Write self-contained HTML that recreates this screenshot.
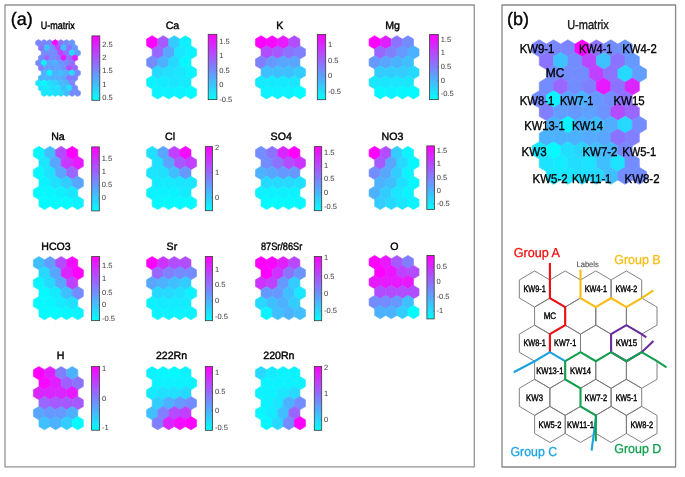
<!DOCTYPE html>
<html><head><meta charset="utf-8"><title>SOM component planes</title>
<style>
html,body{margin:0;padding:0;background:#fff;}
body{width:685px;height:477px;overflow:hidden;}
svg{display:block;will-change:transform;}
text{font-family:"Liberation Sans",sans-serif;text-rendering:geometricPrecision;}
.lab{font-size:18px;fill:#000;stroke:#000;stroke-width:0.35px;}
.ttl{font-size:10.6px;fill:#000;stroke:#000;stroke-width:0.4px;}
.ttl2{font-size:12.8px;fill:#111;stroke:#111;stroke-width:0.35px;}
.tk{font-size:7.5px;fill:#474747;stroke:#474747;stroke-width:0.05px;}
.bl{font-size:12.8px;fill:#000;stroke:#000;stroke-width:0.35px;}
.hl{font-size:9.4px;fill:#000;stroke:#000;stroke-width:0.4px;}
.grp{font-size:13px;stroke-width:0.3px;}
.lbls{font-size:8px;fill:#555;stroke:#555;stroke-width:0.15px;}
</style></head>
<body>
<svg width="685" height="477" viewBox="0 0 685 477">
<defs>
<linearGradient id="cg" x1="0" y1="1" x2="0" y2="0">
<stop offset="0" stop-color="#00ffff"/><stop offset="1" stop-color="#ff00ff"/>
</linearGradient>
</defs>
<rect x="0" y="0" width="685" height="477" fill="#fff"/>
<rect x="5" y="5" width="469.3" height="461.8" fill="none" stroke="#929292" stroke-width="1.3" stroke-linejoin="round"/>
<rect x="502" y="5" width="173.6" height="462" fill="none" stroke="#888" stroke-width="1.3" stroke-linejoin="round"/>
<text x="10.8" y="24.5" class="lab">(a)</text>
<text x="507" y="24.5" class="lab">(b)</text>
<polygon points="38.50,39.60 41.29,41.27 41.29,44.62 38.50,46.29 35.70,44.62 35.70,41.27" fill="#7a85ff" stroke="#7a85ff" stroke-width="0.6"/>
<polygon points="44.09,39.60 46.88,41.27 46.88,44.62 44.09,46.29 41.29,44.62 41.29,41.27" fill="#7a85ff" stroke="#7a85ff" stroke-width="0.6"/>
<polygon points="49.68,39.60 52.47,41.27 52.47,44.62 49.68,46.29 46.88,44.62 46.88,41.27" fill="#7a85ff" stroke="#7a85ff" stroke-width="0.6"/>
<polygon points="55.27,39.60 58.06,41.27 58.06,44.62 55.27,46.29 52.47,44.62 52.47,41.27" fill="#ff00ff" stroke="#ff00ff" stroke-width="0.6"/>
<polygon points="60.86,39.60 63.65,41.27 63.65,44.62 60.86,46.29 58.06,44.62 58.06,41.27" fill="#8c73ff" stroke="#8c73ff" stroke-width="0.6"/>
<polygon points="66.45,39.60 69.24,41.27 69.24,44.62 66.45,46.29 63.65,44.62 63.65,41.27" fill="#738cff" stroke="#738cff" stroke-width="0.6"/>
<polygon points="72.03,39.60 74.83,41.27 74.83,44.62 72.03,46.29 69.24,44.62 69.24,41.27" fill="#6b94ff" stroke="#6b94ff" stroke-width="0.6"/>
<polygon points="41.29,44.62 44.09,46.29 44.09,49.63 41.29,51.30 38.50,49.63 38.50,46.29" fill="#8c73ff" stroke="#8c73ff" stroke-width="0.6"/>
<polygon points="46.88,44.62 49.68,46.29 49.68,49.63 46.88,51.30 44.09,49.63 44.09,46.29" fill="#3dc2ff" stroke="#3dc2ff" stroke-width="0.6"/>
<polygon points="52.47,44.62 55.27,46.29 55.27,49.63 52.47,51.30 49.68,49.63 49.68,46.29" fill="#738cff" stroke="#738cff" stroke-width="0.6"/>
<polygon points="58.06,44.62 60.86,46.29 60.86,49.63 58.06,51.30 55.27,49.63 55.27,46.29" fill="#b847ff" stroke="#b847ff" stroke-width="0.6"/>
<polygon points="63.65,44.62 66.45,46.29 66.45,49.63 63.65,51.30 60.86,49.63 60.86,46.29" fill="#3dc2ff" stroke="#3dc2ff" stroke-width="0.6"/>
<polygon points="69.24,44.62 72.04,46.29 72.04,49.63 69.24,51.30 66.45,49.63 66.45,46.29" fill="#8c73ff" stroke="#8c73ff" stroke-width="0.6"/>
<polygon points="74.83,44.62 77.62,46.29 77.62,49.63 74.83,51.30 72.03,49.63 72.03,46.29" fill="#6699ff" stroke="#6699ff" stroke-width="0.6"/>
<polygon points="44.09,49.63 46.88,51.30 46.88,54.65 44.09,56.32 41.29,54.65 41.29,51.30" fill="#738cff" stroke="#738cff" stroke-width="0.6"/>
<polygon points="49.68,49.63 52.47,51.30 52.47,54.65 49.68,56.32 46.88,54.65 46.88,51.30" fill="#738cff" stroke="#738cff" stroke-width="0.6"/>
<polygon points="55.27,49.63 58.06,51.30 58.06,54.65 55.27,56.32 52.47,54.65 52.47,51.30" fill="#738cff" stroke="#738cff" stroke-width="0.6"/>
<polygon points="60.86,49.63 63.65,51.30 63.65,54.65 60.86,56.32 58.06,54.65 58.06,51.30" fill="#bf40ff" stroke="#bf40ff" stroke-width="0.6"/>
<polygon points="66.45,49.63 69.24,51.30 69.24,54.65 66.45,56.32 63.65,54.65 63.65,51.30" fill="#8c73ff" stroke="#8c73ff" stroke-width="0.6"/>
<polygon points="72.04,49.63 74.83,51.30 74.83,54.65 72.04,56.32 69.24,54.65 69.24,51.30" fill="#26d9ff" stroke="#26d9ff" stroke-width="0.6"/>
<polygon points="77.62,49.63 80.42,51.30 80.42,54.65 77.62,56.32 74.83,54.65 74.83,51.30" fill="#619eff" stroke="#619eff" stroke-width="0.6"/>
<polygon points="41.29,54.65 44.09,56.32 44.09,59.66 41.29,61.33 38.50,59.66 38.50,56.32" fill="#738cff" stroke="#738cff" stroke-width="0.6"/>
<polygon points="46.88,54.65 49.68,56.32 49.68,59.66 46.88,61.33 44.09,59.66 44.09,56.32" fill="#9966ff" stroke="#9966ff" stroke-width="0.6"/>
<polygon points="52.47,54.65 55.27,56.32 55.27,59.66 52.47,61.33 49.68,59.66 49.68,56.32" fill="#738cff" stroke="#738cff" stroke-width="0.6"/>
<polygon points="58.06,54.65 60.86,56.32 60.86,59.66 58.06,61.33 55.27,59.66 55.27,56.32" fill="#8080ff" stroke="#8080ff" stroke-width="0.6"/>
<polygon points="63.65,54.65 66.45,56.32 66.45,59.66 63.65,61.33 60.86,59.66 60.86,56.32" fill="#e619ff" stroke="#e619ff" stroke-width="0.6"/>
<polygon points="69.24,54.65 72.04,56.32 72.04,59.66 69.24,61.33 66.45,59.66 66.45,56.32" fill="#8c73ff" stroke="#8c73ff" stroke-width="0.6"/>
<polygon points="74.83,54.65 77.62,56.32 77.62,59.66 74.83,61.33 72.03,59.66 72.03,56.32" fill="#d926ff" stroke="#d926ff" stroke-width="0.6"/>
<polygon points="38.50,59.66 41.29,61.33 41.29,64.68 38.50,66.35 35.70,64.68 35.70,61.33" fill="#738cff" stroke="#738cff" stroke-width="0.6"/>
<polygon points="44.09,59.66 46.88,61.33 46.88,64.68 44.09,66.35 41.29,64.68 41.29,61.33" fill="#0df2ff" stroke="#0df2ff" stroke-width="0.6"/>
<polygon points="49.68,59.66 52.47,61.33 52.47,64.68 49.68,66.35 46.88,64.68 46.88,61.33" fill="#5ca3ff" stroke="#5ca3ff" stroke-width="0.6"/>
<polygon points="55.27,59.66 58.06,61.33 58.06,64.68 55.27,66.35 52.47,64.68 52.47,61.33" fill="#4cb2ff" stroke="#4cb2ff" stroke-width="0.6"/>
<polygon points="60.86,59.66 63.65,61.33 63.65,64.68 60.86,66.35 58.06,64.68 58.06,61.33" fill="#6699ff" stroke="#6699ff" stroke-width="0.6"/>
<polygon points="66.45,59.66 69.24,61.33 69.24,64.68 66.45,66.35 63.65,64.68 63.65,61.33" fill="#738cff" stroke="#738cff" stroke-width="0.6"/>
<polygon points="72.03,59.66 74.83,61.33 74.83,64.68 72.03,66.35 69.24,64.68 69.24,61.33" fill="#8c73ff" stroke="#8c73ff" stroke-width="0.6"/>
<polygon points="41.29,64.68 44.09,66.35 44.09,69.69 41.29,71.36 38.50,69.69 38.50,66.35" fill="#8080ff" stroke="#8080ff" stroke-width="0.6"/>
<polygon points="46.88,64.68 49.68,66.35 49.68,69.69 46.88,71.36 44.09,69.69 44.09,66.35" fill="#619eff" stroke="#619eff" stroke-width="0.6"/>
<polygon points="52.47,64.68 55.27,66.35 55.27,69.69 52.47,71.36 49.68,69.69 49.68,66.35" fill="#6699ff" stroke="#6699ff" stroke-width="0.6"/>
<polygon points="58.06,64.68 60.86,66.35 60.86,69.69 58.06,71.36 55.27,69.69 55.27,66.35" fill="#5ea1ff" stroke="#5ea1ff" stroke-width="0.6"/>
<polygon points="63.65,64.68 66.45,66.35 66.45,69.69 63.65,71.36 60.86,69.69 60.86,66.35" fill="#6b94ff" stroke="#6b94ff" stroke-width="0.6"/>
<polygon points="69.24,64.68 72.04,66.35 72.04,69.69 69.24,71.36 66.45,69.69 66.45,66.35" fill="#b24dff" stroke="#b24dff" stroke-width="0.6"/>
<polygon points="74.83,64.68 77.62,66.35 77.62,69.69 74.83,71.36 72.03,69.69 72.03,66.35" fill="#9966ff" stroke="#9966ff" stroke-width="0.6"/>
<polygon points="44.09,69.69 46.88,71.36 46.88,74.71 44.09,76.38 41.29,74.71 41.29,71.36" fill="#4cb2ff" stroke="#4cb2ff" stroke-width="0.6"/>
<polygon points="49.68,69.69 52.47,71.36 52.47,74.71 49.68,76.38 46.88,74.71 46.88,71.36" fill="#0df2ff" stroke="#0df2ff" stroke-width="0.6"/>
<polygon points="55.27,69.69 58.06,71.36 58.06,74.71 55.27,76.38 52.47,74.71 52.47,71.36" fill="#4cb2ff" stroke="#4cb2ff" stroke-width="0.6"/>
<polygon points="60.86,69.69 63.65,71.36 63.65,74.71 60.86,76.38 58.06,74.71 58.06,71.36" fill="#40bfff" stroke="#40bfff" stroke-width="0.6"/>
<polygon points="66.45,69.69 69.24,71.36 69.24,74.71 66.45,76.38 63.65,74.71 63.65,71.36" fill="#52adff" stroke="#52adff" stroke-width="0.6"/>
<polygon points="72.04,69.69 74.83,71.36 74.83,74.71 72.04,76.38 69.24,74.71 69.24,71.36" fill="#26d9ff" stroke="#26d9ff" stroke-width="0.6"/>
<polygon points="77.62,69.69 80.42,71.36 80.42,74.71 77.62,76.38 74.83,74.71 74.83,71.36" fill="#738cff" stroke="#738cff" stroke-width="0.6"/>
<polygon points="41.29,74.71 44.09,76.38 44.09,79.72 41.29,81.39 38.50,79.72 38.50,76.38" fill="#4cb2ff" stroke="#4cb2ff" stroke-width="0.6"/>
<polygon points="46.88,74.71 49.68,76.38 49.68,79.72 46.88,81.39 44.09,79.72 44.09,76.38" fill="#4cb2ff" stroke="#4cb2ff" stroke-width="0.6"/>
<polygon points="52.47,74.71 55.27,76.38 55.27,79.72 52.47,81.39 49.68,79.72 49.68,76.38" fill="#4cb2ff" stroke="#4cb2ff" stroke-width="0.6"/>
<polygon points="58.06,74.71 60.86,76.38 60.86,79.72 58.06,81.39 55.27,79.72 55.27,76.38" fill="#54abff" stroke="#54abff" stroke-width="0.6"/>
<polygon points="63.65,74.71 66.45,76.38 66.45,79.72 63.65,81.39 60.86,79.72 60.86,76.38" fill="#59a6ff" stroke="#59a6ff" stroke-width="0.6"/>
<polygon points="69.24,74.71 72.04,76.38 72.04,79.72 69.24,81.39 66.45,79.72 66.45,76.38" fill="#8c73ff" stroke="#8c73ff" stroke-width="0.6"/>
<polygon points="74.83,74.71 77.62,76.38 77.62,79.72 74.83,81.39 72.03,79.72 72.03,76.38" fill="#8080ff" stroke="#8080ff" stroke-width="0.6"/>
<polygon points="38.50,79.72 41.29,81.39 41.29,84.74 38.50,86.41 35.70,84.74 35.70,81.39" fill="#1ae6ff" stroke="#1ae6ff" stroke-width="0.6"/>
<polygon points="44.09,79.72 46.88,81.39 46.88,84.74 44.09,86.41 41.29,84.74 41.29,81.39" fill="#05faff" stroke="#05faff" stroke-width="0.6"/>
<polygon points="49.68,79.72 52.47,81.39 52.47,84.74 49.68,86.41 46.88,84.74 46.88,81.39" fill="#21deff" stroke="#21deff" stroke-width="0.6"/>
<polygon points="55.27,79.72 58.06,81.39 58.06,84.74 55.27,86.41 52.47,84.74 52.47,81.39" fill="#2bd4ff" stroke="#2bd4ff" stroke-width="0.6"/>
<polygon points="60.86,79.72 63.65,81.39 63.65,84.74 60.86,86.41 58.06,84.74 58.06,81.39" fill="#42bdff" stroke="#42bdff" stroke-width="0.6"/>
<polygon points="66.45,79.72 69.24,81.39 69.24,84.74 66.45,86.41 63.65,84.74 63.65,81.39" fill="#4ab5ff" stroke="#4ab5ff" stroke-width="0.6"/>
<polygon points="72.03,79.72 74.83,81.39 74.83,84.74 72.03,86.41 69.24,84.74 69.24,81.39" fill="#7887ff" stroke="#7887ff" stroke-width="0.6"/>
<polygon points="41.29,84.74 44.09,86.41 44.09,89.75 41.29,91.43 38.50,89.75 38.50,86.41" fill="#1ce3ff" stroke="#1ce3ff" stroke-width="0.6"/>
<polygon points="46.88,84.74 49.68,86.41 49.68,89.75 46.88,91.43 44.09,89.75 44.09,86.41" fill="#14ebff" stroke="#14ebff" stroke-width="0.6"/>
<polygon points="52.47,84.74 55.27,86.41 55.27,89.75 52.47,91.43 49.68,89.75 49.68,86.41" fill="#21deff" stroke="#21deff" stroke-width="0.6"/>
<polygon points="58.06,84.74 60.86,86.41 60.86,89.75 58.06,91.43 55.27,89.75 55.27,86.41" fill="#1ce3ff" stroke="#1ce3ff" stroke-width="0.6"/>
<polygon points="63.65,84.74 66.45,86.41 66.45,89.75 63.65,91.43 60.86,89.75 60.86,86.41" fill="#40bfff" stroke="#40bfff" stroke-width="0.6"/>
<polygon points="69.24,84.74 72.04,86.41 72.04,89.75 69.24,91.43 66.45,89.75 66.45,86.41" fill="#1ce3ff" stroke="#1ce3ff" stroke-width="0.6"/>
<polygon points="74.83,84.74 77.62,86.41 77.62,89.75 74.83,91.43 72.03,89.75 72.03,86.41" fill="#738cff" stroke="#738cff" stroke-width="0.6"/>
<polygon points="44.09,89.75 46.88,91.43 46.88,94.77 44.09,96.44 41.29,94.77 41.29,91.43" fill="#17e8ff" stroke="#17e8ff" stroke-width="0.6"/>
<polygon points="49.68,89.75 52.47,91.43 52.47,94.77 49.68,96.44 46.88,94.77 46.88,91.43" fill="#1ae6ff" stroke="#1ae6ff" stroke-width="0.6"/>
<polygon points="55.27,89.75 58.06,91.43 58.06,94.77 55.27,96.44 52.47,94.77 52.47,91.43" fill="#1fe0ff" stroke="#1fe0ff" stroke-width="0.6"/>
<polygon points="60.86,89.75 63.65,91.43 63.65,94.77 60.86,96.44 58.06,94.77 58.06,91.43" fill="#26d9ff" stroke="#26d9ff" stroke-width="0.6"/>
<polygon points="66.45,89.75 69.24,91.43 69.24,94.77 66.45,96.44 63.65,94.77 63.65,91.43" fill="#40bfff" stroke="#40bfff" stroke-width="0.6"/>
<polygon points="72.04,89.75 74.83,91.43 74.83,94.77 72.04,96.44 69.24,94.77 69.24,91.43" fill="#738cff" stroke="#738cff" stroke-width="0.6"/>
<polygon points="77.62,89.75 80.42,91.43 80.42,94.77 77.62,96.44 74.83,94.77 74.83,91.43" fill="#738cff" stroke="#738cff" stroke-width="0.6"/>
<text x="57.8" y="29.3" class="ttl" text-anchor="middle" textLength="34" lengthAdjust="spacingAndGlyphs">U-matrix</text>
<rect x="91.90" y="35.90" width="7.90" height="64.40" fill="url(#cg)" stroke="#3a3a3a" stroke-width="0.8"/>
<line x1="98.80" y1="44.90" x2="99.80" y2="44.90" stroke="#444" stroke-width="0.5"/>
<text x="102.20" y="47.10" class="tk">2.5</text>
<line x1="98.80" y1="57.40" x2="99.80" y2="57.40" stroke="#444" stroke-width="0.5"/>
<text x="102.20" y="59.60" class="tk">2</text>
<line x1="98.80" y1="70.80" x2="99.80" y2="70.80" stroke="#444" stroke-width="0.5"/>
<text x="102.20" y="73.00" class="tk">1.5</text>
<line x1="98.80" y1="84.30" x2="99.80" y2="84.30" stroke="#444" stroke-width="0.5"/>
<text x="102.20" y="86.50" class="tk">1</text>
<line x1="98.80" y1="97.70" x2="99.80" y2="97.70" stroke="#444" stroke-width="0.5"/>
<text x="102.20" y="99.90" class="tk">0.5</text>
<polygon points="152.15,35.70 157.70,39.03 157.70,45.70 152.15,49.03 146.60,45.70 146.60,39.03" fill="#ff00ff" stroke="#ff00ff" stroke-width="0.6"/>
<polygon points="163.25,35.70 168.80,39.03 168.80,45.70 163.25,49.03 157.70,45.70 157.70,39.03" fill="#a659ff" stroke="#a659ff" stroke-width="0.6"/>
<polygon points="174.35,35.70 179.90,39.03 179.90,45.70 174.35,49.03 168.80,45.70 168.80,39.03" fill="#33ccff" stroke="#33ccff" stroke-width="0.6"/>
<polygon points="185.45,35.70 191.00,39.03 191.00,45.70 185.45,49.03 179.90,45.70 179.90,39.03" fill="#0ff0ff" stroke="#0ff0ff" stroke-width="0.6"/>
<polygon points="157.70,45.70 163.25,49.03 163.25,55.69 157.70,59.03 152.15,55.69 152.15,49.03" fill="#9966ff" stroke="#9966ff" stroke-width="0.6"/>
<polygon points="168.80,45.70 174.35,49.03 174.35,55.69 168.80,59.03 163.25,55.69 163.25,49.03" fill="#59a6ff" stroke="#59a6ff" stroke-width="0.6"/>
<polygon points="179.90,45.70 185.45,49.03 185.45,55.69 179.90,59.03 174.35,55.69 174.35,49.03" fill="#1ae6ff" stroke="#1ae6ff" stroke-width="0.6"/>
<polygon points="191.00,45.70 196.55,49.03 196.55,55.69 191.00,59.03 185.45,55.69 185.45,49.03" fill="#0df2ff" stroke="#0df2ff" stroke-width="0.6"/>
<polygon points="152.15,55.69 157.70,59.03 157.70,65.69 152.15,69.02 146.60,65.69 146.60,59.03" fill="#738cff" stroke="#738cff" stroke-width="0.6"/>
<polygon points="163.25,55.69 168.80,59.03 168.80,65.69 163.25,69.02 157.70,65.69 157.70,59.03" fill="#4cb2ff" stroke="#4cb2ff" stroke-width="0.6"/>
<polygon points="174.35,55.69 179.90,59.03 179.90,65.69 174.35,69.02 168.80,65.69 168.80,59.03" fill="#26d9ff" stroke="#26d9ff" stroke-width="0.6"/>
<polygon points="185.45,55.69 191.00,59.03 191.00,65.69 185.45,69.02 179.90,65.69 179.90,59.03" fill="#08f7ff" stroke="#08f7ff" stroke-width="0.6"/>
<polygon points="157.70,65.69 163.25,69.02 163.25,75.69 157.70,79.02 152.15,75.69 152.15,69.02" fill="#26d9ff" stroke="#26d9ff" stroke-width="0.6"/>
<polygon points="168.80,65.69 174.35,69.02 174.35,75.69 168.80,79.02 163.25,75.69 163.25,69.02" fill="#1fe0ff" stroke="#1fe0ff" stroke-width="0.6"/>
<polygon points="179.90,65.69 185.45,69.02 185.45,75.69 179.90,79.02 174.35,75.69 174.35,69.02" fill="#1ae6ff" stroke="#1ae6ff" stroke-width="0.6"/>
<polygon points="191.00,65.69 196.55,69.02 196.55,75.69 191.00,79.02 185.45,75.69 185.45,69.02" fill="#0df2ff" stroke="#0df2ff" stroke-width="0.6"/>
<polygon points="152.15,75.69 157.70,79.02 157.70,85.69 152.15,89.02 146.60,85.69 146.60,79.02" fill="#0df2ff" stroke="#0df2ff" stroke-width="0.6"/>
<polygon points="163.25,75.69 168.80,79.02 168.80,85.69 163.25,89.02 157.70,85.69 157.70,79.02" fill="#14ebff" stroke="#14ebff" stroke-width="0.6"/>
<polygon points="174.35,75.69 179.90,79.02 179.90,85.69 174.35,89.02 168.80,85.69 168.80,79.02" fill="#1ae6ff" stroke="#1ae6ff" stroke-width="0.6"/>
<polygon points="185.45,75.69 191.00,79.02 191.00,85.69 185.45,89.02 179.90,85.69 179.90,79.02" fill="#14ebff" stroke="#14ebff" stroke-width="0.6"/>
<polygon points="157.70,85.69 163.25,89.02 163.25,95.68 157.70,99.02 152.15,95.68 152.15,89.02" fill="#0df2ff" stroke="#0df2ff" stroke-width="0.6"/>
<polygon points="168.80,85.69 174.35,89.02 174.35,95.68 168.80,99.02 163.25,95.68 163.25,89.02" fill="#0df2ff" stroke="#0df2ff" stroke-width="0.6"/>
<polygon points="179.90,85.69 185.45,89.02 185.45,95.68 179.90,99.02 174.35,95.68 174.35,89.02" fill="#0df2ff" stroke="#0df2ff" stroke-width="0.6"/>
<polygon points="191.00,85.69 196.55,89.02 196.55,95.68 191.00,99.02 185.45,95.68 185.45,89.02" fill="#05faff" stroke="#05faff" stroke-width="0.6"/>
<text x="172.40" y="29.40" class="ttl" text-anchor="middle">Ca</text>
<rect x="208.20" y="34.30" width="8.70" height="65.30" fill="url(#cg)" stroke="#3a3a3a" stroke-width="0.8"/>
<line x1="215.90" y1="41.80" x2="216.90" y2="41.80" stroke="#444" stroke-width="0.5"/>
<text x="219.30" y="44.00" class="tk">1.5</text>
<line x1="215.90" y1="56.00" x2="216.90" y2="56.00" stroke="#444" stroke-width="0.5"/>
<text x="219.30" y="58.20" class="tk">1</text>
<line x1="215.90" y1="70.90" x2="216.90" y2="70.90" stroke="#444" stroke-width="0.5"/>
<text x="219.30" y="73.10" class="tk">0.5</text>
<line x1="215.90" y1="85.10" x2="216.90" y2="85.10" stroke="#444" stroke-width="0.5"/>
<text x="219.30" y="87.30" class="tk">0</text>
<line x1="215.90" y1="99.60" x2="216.90" y2="99.60" stroke="#444" stroke-width="0.5"/>
<text x="219.30" y="101.80" class="tk">-0.5</text>
<polygon points="261.05,35.70 266.60,39.03 266.60,45.70 261.05,49.03 255.50,45.70 255.50,39.03" fill="#ff00ff" stroke="#ff00ff" stroke-width="0.6"/>
<polygon points="272.15,35.70 277.70,39.03 277.70,45.70 272.15,49.03 266.60,45.70 266.60,39.03" fill="#f708ff" stroke="#f708ff" stroke-width="0.6"/>
<polygon points="283.25,35.70 288.80,39.03 288.80,45.70 283.25,49.03 277.70,45.70 277.70,39.03" fill="#e619ff" stroke="#e619ff" stroke-width="0.6"/>
<polygon points="294.35,35.70 299.90,39.03 299.90,45.70 294.35,49.03 288.80,45.70 288.80,39.03" fill="#b24dff" stroke="#b24dff" stroke-width="0.6"/>
<polygon points="266.60,45.70 272.15,49.03 272.15,55.69 266.60,59.03 261.05,55.69 261.05,49.03" fill="#b24dff" stroke="#b24dff" stroke-width="0.6"/>
<polygon points="277.70,45.70 283.25,49.03 283.25,55.69 277.70,59.03 272.15,55.69 272.15,49.03" fill="#a659ff" stroke="#a659ff" stroke-width="0.6"/>
<polygon points="288.80,45.70 294.35,49.03 294.35,55.69 288.80,59.03 283.25,55.69 283.25,49.03" fill="#8c73ff" stroke="#8c73ff" stroke-width="0.6"/>
<polygon points="299.90,45.70 305.45,49.03 305.45,55.69 299.90,59.03 294.35,55.69 294.35,49.03" fill="#8080ff" stroke="#8080ff" stroke-width="0.6"/>
<polygon points="261.05,55.69 266.60,59.03 266.60,65.69 261.05,69.02 255.50,65.69 255.50,59.03" fill="#8080ff" stroke="#8080ff" stroke-width="0.6"/>
<polygon points="272.15,55.69 277.70,59.03 277.70,65.69 272.15,69.02 266.60,65.69 266.60,59.03" fill="#6699ff" stroke="#6699ff" stroke-width="0.6"/>
<polygon points="283.25,55.69 288.80,59.03 288.80,65.69 283.25,69.02 277.70,65.69 277.70,59.03" fill="#59a6ff" stroke="#59a6ff" stroke-width="0.6"/>
<polygon points="294.35,55.69 299.90,59.03 299.90,65.69 294.35,69.02 288.80,65.69 288.80,59.03" fill="#59a6ff" stroke="#59a6ff" stroke-width="0.6"/>
<polygon points="266.60,65.69 272.15,69.02 272.15,75.69 266.60,79.02 261.05,75.69 261.05,69.02" fill="#40bfff" stroke="#40bfff" stroke-width="0.6"/>
<polygon points="277.70,65.69 283.25,69.02 283.25,75.69 277.70,79.02 272.15,75.69 272.15,69.02" fill="#40bfff" stroke="#40bfff" stroke-width="0.6"/>
<polygon points="288.80,65.69 294.35,69.02 294.35,75.69 288.80,79.02 283.25,75.69 283.25,69.02" fill="#40bfff" stroke="#40bfff" stroke-width="0.6"/>
<polygon points="299.90,65.69 305.45,69.02 305.45,75.69 299.90,79.02 294.35,75.69 294.35,69.02" fill="#33ccff" stroke="#33ccff" stroke-width="0.6"/>
<polygon points="261.05,75.69 266.60,79.02 266.60,85.69 261.05,89.02 255.50,85.69 255.50,79.02" fill="#14ebff" stroke="#14ebff" stroke-width="0.6"/>
<polygon points="272.15,75.69 277.70,79.02 277.70,85.69 272.15,89.02 266.60,85.69 266.60,79.02" fill="#14ebff" stroke="#14ebff" stroke-width="0.6"/>
<polygon points="283.25,75.69 288.80,79.02 288.80,85.69 283.25,89.02 277.70,85.69 277.70,79.02" fill="#14ebff" stroke="#14ebff" stroke-width="0.6"/>
<polygon points="294.35,75.69 299.90,79.02 299.90,85.69 294.35,89.02 288.80,85.69 288.80,79.02" fill="#1ae6ff" stroke="#1ae6ff" stroke-width="0.6"/>
<polygon points="266.60,85.69 272.15,89.02 272.15,95.68 266.60,99.02 261.05,95.68 261.05,89.02" fill="#0df2ff" stroke="#0df2ff" stroke-width="0.6"/>
<polygon points="277.70,85.69 283.25,89.02 283.25,95.68 277.70,99.02 272.15,95.68 272.15,89.02" fill="#0df2ff" stroke="#0df2ff" stroke-width="0.6"/>
<polygon points="288.80,85.69 294.35,89.02 294.35,95.68 288.80,99.02 283.25,95.68 283.25,89.02" fill="#0df2ff" stroke="#0df2ff" stroke-width="0.6"/>
<polygon points="299.90,85.69 305.45,89.02 305.45,95.68 299.90,99.02 294.35,95.68 294.35,89.02" fill="#05faff" stroke="#05faff" stroke-width="0.6"/>
<text x="279.80" y="29.40" class="ttl" text-anchor="middle">K</text>
<rect x="317.30" y="34.50" width="8.40" height="65.20" fill="url(#cg)" stroke="#3a3a3a" stroke-width="0.8"/>
<line x1="324.70" y1="44.50" x2="325.70" y2="44.50" stroke="#444" stroke-width="0.5"/>
<text x="328.10" y="46.70" class="tk">1</text>
<line x1="324.70" y1="60.80" x2="325.70" y2="60.80" stroke="#444" stroke-width="0.5"/>
<text x="328.10" y="63.00" class="tk">0.5</text>
<line x1="324.70" y1="75.80" x2="325.70" y2="75.80" stroke="#444" stroke-width="0.5"/>
<text x="328.10" y="78.00" class="tk">0</text>
<line x1="324.70" y1="91.70" x2="325.70" y2="91.70" stroke="#444" stroke-width="0.5"/>
<text x="328.10" y="93.90" class="tk">-0.5</text>
<polygon points="374.65,35.70 380.20,39.03 380.20,45.70 374.65,49.03 369.10,45.70 369.10,39.03" fill="#ff00ff" stroke="#ff00ff" stroke-width="0.6"/>
<polygon points="385.75,35.70 391.30,39.03 391.30,45.70 385.75,49.03 380.20,45.70 380.20,39.03" fill="#e01fff" stroke="#e01fff" stroke-width="0.6"/>
<polygon points="396.85,35.70 402.40,39.03 402.40,45.70 396.85,49.03 391.30,45.70 391.30,39.03" fill="#8c73ff" stroke="#8c73ff" stroke-width="0.6"/>
<polygon points="407.95,35.70 413.50,39.03 413.50,45.70 407.95,49.03 402.40,45.70 402.40,39.03" fill="#738cff" stroke="#738cff" stroke-width="0.6"/>
<polygon points="380.20,45.70 385.75,49.03 385.75,55.69 380.20,59.03 374.65,55.69 374.65,49.03" fill="#9966ff" stroke="#9966ff" stroke-width="0.6"/>
<polygon points="391.30,45.70 396.85,49.03 396.85,55.69 391.30,59.03 385.75,55.69 385.75,49.03" fill="#8080ff" stroke="#8080ff" stroke-width="0.6"/>
<polygon points="402.40,45.70 407.95,49.03 407.95,55.69 402.40,59.03 396.85,55.69 396.85,49.03" fill="#6699ff" stroke="#6699ff" stroke-width="0.6"/>
<polygon points="413.50,45.70 419.05,49.03 419.05,55.69 413.50,59.03 407.95,55.69 407.95,49.03" fill="#4cb2ff" stroke="#4cb2ff" stroke-width="0.6"/>
<polygon points="374.65,55.69 380.20,59.03 380.20,65.69 374.65,69.02 369.10,65.69 369.10,59.03" fill="#6699ff" stroke="#6699ff" stroke-width="0.6"/>
<polygon points="385.75,55.69 391.30,59.03 391.30,65.69 385.75,69.02 380.20,65.69 380.20,59.03" fill="#59a6ff" stroke="#59a6ff" stroke-width="0.6"/>
<polygon points="396.85,55.69 402.40,59.03 402.40,65.69 396.85,69.02 391.30,65.69 391.30,59.03" fill="#4cb2ff" stroke="#4cb2ff" stroke-width="0.6"/>
<polygon points="407.95,55.69 413.50,59.03 413.50,65.69 407.95,69.02 402.40,65.69 402.40,59.03" fill="#40bfff" stroke="#40bfff" stroke-width="0.6"/>
<polygon points="380.20,65.69 385.75,69.02 385.75,75.69 380.20,79.02 374.65,75.69 374.65,69.02" fill="#33ccff" stroke="#33ccff" stroke-width="0.6"/>
<polygon points="391.30,65.69 396.85,69.02 396.85,75.69 391.30,79.02 385.75,75.69 385.75,69.02" fill="#33ccff" stroke="#33ccff" stroke-width="0.6"/>
<polygon points="402.40,65.69 407.95,69.02 407.95,75.69 402.40,79.02 396.85,75.69 396.85,69.02" fill="#33ccff" stroke="#33ccff" stroke-width="0.6"/>
<polygon points="413.50,65.69 419.05,69.02 419.05,75.69 413.50,79.02 407.95,75.69 407.95,69.02" fill="#26d9ff" stroke="#26d9ff" stroke-width="0.6"/>
<polygon points="374.65,75.69 380.20,79.02 380.20,85.69 374.65,89.02 369.10,85.69 369.10,79.02" fill="#1ae6ff" stroke="#1ae6ff" stroke-width="0.6"/>
<polygon points="385.75,75.69 391.30,79.02 391.30,85.69 385.75,89.02 380.20,85.69 380.20,79.02" fill="#1ae6ff" stroke="#1ae6ff" stroke-width="0.6"/>
<polygon points="396.85,75.69 402.40,79.02 402.40,85.69 396.85,89.02 391.30,85.69 391.30,79.02" fill="#1ae6ff" stroke="#1ae6ff" stroke-width="0.6"/>
<polygon points="407.95,75.69 413.50,79.02 413.50,85.69 407.95,89.02 402.40,85.69 402.40,79.02" fill="#1ae6ff" stroke="#1ae6ff" stroke-width="0.6"/>
<polygon points="380.20,85.69 385.75,89.02 385.75,95.68 380.20,99.02 374.65,95.68 374.65,89.02" fill="#08f7ff" stroke="#08f7ff" stroke-width="0.6"/>
<polygon points="391.30,85.69 396.85,89.02 396.85,95.68 391.30,99.02 385.75,95.68 385.75,89.02" fill="#0df2ff" stroke="#0df2ff" stroke-width="0.6"/>
<polygon points="402.40,85.69 407.95,89.02 407.95,95.68 402.40,99.02 396.85,95.68 396.85,89.02" fill="#08f7ff" stroke="#08f7ff" stroke-width="0.6"/>
<polygon points="413.50,85.69 419.05,89.02 419.05,95.68 413.50,99.02 407.95,95.68 407.95,89.02" fill="#05faff" stroke="#05faff" stroke-width="0.6"/>
<text x="392.50" y="29.40" class="ttl" text-anchor="middle">Mg</text>
<rect x="429.60" y="34.50" width="8.70" height="65.10" fill="url(#cg)" stroke="#3a3a3a" stroke-width="0.8"/>
<line x1="437.30" y1="39.90" x2="438.30" y2="39.90" stroke="#444" stroke-width="0.5"/>
<text x="440.70" y="42.10" class="tk">1.5</text>
<line x1="437.30" y1="53.20" x2="438.30" y2="53.20" stroke="#444" stroke-width="0.5"/>
<text x="440.70" y="55.40" class="tk">1</text>
<line x1="437.30" y1="67.10" x2="438.30" y2="67.10" stroke="#444" stroke-width="0.5"/>
<text x="440.70" y="69.30" class="tk">0.5</text>
<line x1="437.30" y1="80.30" x2="438.30" y2="80.30" stroke="#444" stroke-width="0.5"/>
<text x="440.70" y="82.50" class="tk">0</text>
<line x1="437.30" y1="94.20" x2="438.30" y2="94.20" stroke="#444" stroke-width="0.5"/>
<text x="440.70" y="96.40" class="tk">-0.5</text>
<polygon points="38.95,146.30 44.50,149.63 44.50,156.30 38.95,159.63 33.40,156.30 33.40,149.63" fill="#0af5ff" stroke="#0af5ff" stroke-width="0.6"/>
<polygon points="50.05,146.30 55.60,149.63 55.60,156.30 50.05,159.63 44.50,156.30 44.50,149.63" fill="#42bdff" stroke="#42bdff" stroke-width="0.6"/>
<polygon points="61.15,146.30 66.70,149.63 66.70,156.30 61.15,159.63 55.60,156.30 55.60,149.63" fill="#b24dff" stroke="#b24dff" stroke-width="0.6"/>
<polygon points="72.25,146.30 77.80,149.63 77.80,156.30 72.25,159.63 66.70,156.30 66.70,149.63" fill="#ff00ff" stroke="#ff00ff" stroke-width="0.6"/>
<polygon points="44.50,156.30 50.05,159.63 50.05,166.29 44.50,169.63 38.95,166.29 38.95,159.63" fill="#1ae6ff" stroke="#1ae6ff" stroke-width="0.6"/>
<polygon points="55.60,156.30 61.15,159.63 61.15,166.29 55.60,169.63 50.05,166.29 50.05,159.63" fill="#59a6ff" stroke="#59a6ff" stroke-width="0.6"/>
<polygon points="66.70,156.30 72.25,159.63 72.25,166.29 66.70,169.63 61.15,166.29 61.15,159.63" fill="#c738ff" stroke="#c738ff" stroke-width="0.6"/>
<polygon points="77.80,156.30 83.35,159.63 83.35,166.29 77.80,169.63 72.25,166.29 72.25,159.63" fill="#e619ff" stroke="#e619ff" stroke-width="0.6"/>
<polygon points="38.95,166.29 44.50,169.63 44.50,176.29 38.95,179.62 33.40,176.29 33.40,169.63" fill="#08f7ff" stroke="#08f7ff" stroke-width="0.6"/>
<polygon points="50.05,166.29 55.60,169.63 55.60,176.29 50.05,179.62 44.50,176.29 44.50,169.63" fill="#1fe0ff" stroke="#1fe0ff" stroke-width="0.6"/>
<polygon points="61.15,166.29 66.70,169.63 66.70,176.29 61.15,179.62 55.60,176.29 55.60,169.63" fill="#59a6ff" stroke="#59a6ff" stroke-width="0.6"/>
<polygon points="72.25,166.29 77.80,169.63 77.80,176.29 72.25,179.62 66.70,176.29 66.70,169.63" fill="#9966ff" stroke="#9966ff" stroke-width="0.6"/>
<polygon points="44.50,176.29 50.05,179.62 50.05,186.29 44.50,189.62 38.95,186.29 38.95,179.62" fill="#0df2ff" stroke="#0df2ff" stroke-width="0.6"/>
<polygon points="55.60,176.29 61.15,179.62 61.15,186.29 55.60,189.62 50.05,186.29 50.05,179.62" fill="#1fe0ff" stroke="#1fe0ff" stroke-width="0.6"/>
<polygon points="66.70,176.29 72.25,179.62 72.25,186.29 66.70,189.62 61.15,186.29 61.15,179.62" fill="#33ccff" stroke="#33ccff" stroke-width="0.6"/>
<polygon points="77.80,176.29 83.35,179.62 83.35,186.29 77.80,189.62 72.25,186.29 72.25,179.62" fill="#59a6ff" stroke="#59a6ff" stroke-width="0.6"/>
<polygon points="38.95,186.29 44.50,189.62 44.50,196.29 38.95,199.62 33.40,196.29 33.40,189.62" fill="#05faff" stroke="#05faff" stroke-width="0.6"/>
<polygon points="50.05,186.29 55.60,189.62 55.60,196.29 50.05,199.62 44.50,196.29 44.50,189.62" fill="#08f7ff" stroke="#08f7ff" stroke-width="0.6"/>
<polygon points="61.15,186.29 66.70,189.62 66.70,196.29 61.15,199.62 55.60,196.29 55.60,189.62" fill="#0ff0ff" stroke="#0ff0ff" stroke-width="0.6"/>
<polygon points="72.25,186.29 77.80,189.62 77.80,196.29 72.25,199.62 66.70,196.29 66.70,189.62" fill="#1ae6ff" stroke="#1ae6ff" stroke-width="0.6"/>
<polygon points="44.50,196.29 50.05,199.62 50.05,206.28 44.50,209.62 38.95,206.28 38.95,199.62" fill="#05faff" stroke="#05faff" stroke-width="0.6"/>
<polygon points="55.60,196.29 61.15,199.62 61.15,206.28 55.60,209.62 50.05,206.28 50.05,199.62" fill="#05faff" stroke="#05faff" stroke-width="0.6"/>
<polygon points="66.70,196.29 72.25,199.62 72.25,206.28 66.70,209.62 61.15,206.28 61.15,199.62" fill="#05faff" stroke="#05faff" stroke-width="0.6"/>
<polygon points="77.80,196.29 83.35,199.62 83.35,206.28 77.80,209.62 72.25,206.28 72.25,199.62" fill="#0df2ff" stroke="#0df2ff" stroke-width="0.6"/>
<text x="58.00" y="140.00" class="ttl" text-anchor="middle">Na</text>
<rect x="91.70" y="146.90" width="7.60" height="64.00" fill="url(#cg)" stroke="#3a3a3a" stroke-width="0.8"/>
<line x1="98.30" y1="158.90" x2="99.30" y2="158.90" stroke="#444" stroke-width="0.5"/>
<text x="101.70" y="161.10" class="tk">1.5</text>
<line x1="98.30" y1="172.20" x2="99.30" y2="172.20" stroke="#444" stroke-width="0.5"/>
<text x="101.70" y="174.40" class="tk">1</text>
<line x1="98.30" y1="185.20" x2="99.30" y2="185.20" stroke="#444" stroke-width="0.5"/>
<text x="101.70" y="187.40" class="tk">0.5</text>
<line x1="98.30" y1="198.10" x2="99.30" y2="198.10" stroke="#444" stroke-width="0.5"/>
<text x="101.70" y="200.30" class="tk">0</text>
<polygon points="152.15,146.30 157.70,149.63 157.70,156.30 152.15,159.63 146.60,156.30 146.60,149.63" fill="#1fe0ff" stroke="#1fe0ff" stroke-width="0.6"/>
<polygon points="163.25,146.30 168.80,149.63 168.80,156.30 163.25,159.63 157.70,156.30 157.70,149.63" fill="#59a6ff" stroke="#59a6ff" stroke-width="0.6"/>
<polygon points="174.35,146.30 179.90,149.63 179.90,156.30 174.35,159.63 168.80,156.30 168.80,149.63" fill="#bf40ff" stroke="#bf40ff" stroke-width="0.6"/>
<polygon points="185.45,146.30 191.00,149.63 191.00,156.30 185.45,159.63 179.90,156.30 179.90,149.63" fill="#f20dff" stroke="#f20dff" stroke-width="0.6"/>
<polygon points="157.70,156.30 163.25,159.63 163.25,166.29 157.70,169.63 152.15,166.29 152.15,159.63" fill="#1fe0ff" stroke="#1fe0ff" stroke-width="0.6"/>
<polygon points="168.80,156.30 174.35,159.63 174.35,166.29 168.80,169.63 163.25,166.29 163.25,159.63" fill="#59a6ff" stroke="#59a6ff" stroke-width="0.6"/>
<polygon points="179.90,156.30 185.45,159.63 185.45,166.29 179.90,169.63 174.35,166.29 174.35,159.63" fill="#a659ff" stroke="#a659ff" stroke-width="0.6"/>
<polygon points="191.00,156.30 196.55,159.63 196.55,166.29 191.00,169.63 185.45,166.29 185.45,159.63" fill="#bf40ff" stroke="#bf40ff" stroke-width="0.6"/>
<polygon points="152.15,166.29 157.70,169.63 157.70,176.29 152.15,179.62 146.60,176.29 146.60,169.63" fill="#1ae6ff" stroke="#1ae6ff" stroke-width="0.6"/>
<polygon points="163.25,166.29 168.80,169.63 168.80,176.29 163.25,179.62 157.70,176.29 157.70,169.63" fill="#1fe0ff" stroke="#1fe0ff" stroke-width="0.6"/>
<polygon points="174.35,166.29 179.90,169.63 179.90,176.29 174.35,179.62 168.80,176.29 168.80,169.63" fill="#40bfff" stroke="#40bfff" stroke-width="0.6"/>
<polygon points="185.45,166.29 191.00,169.63 191.00,176.29 185.45,179.62 179.90,176.29 179.90,169.63" fill="#6699ff" stroke="#6699ff" stroke-width="0.6"/>
<polygon points="157.70,176.29 163.25,179.62 163.25,186.29 157.70,189.62 152.15,186.29 152.15,179.62" fill="#14ebff" stroke="#14ebff" stroke-width="0.6"/>
<polygon points="168.80,176.29 174.35,179.62 174.35,186.29 168.80,189.62 163.25,186.29 163.25,179.62" fill="#14ebff" stroke="#14ebff" stroke-width="0.6"/>
<polygon points="179.90,176.29 185.45,179.62 185.45,186.29 179.90,189.62 174.35,186.29 174.35,179.62" fill="#1ae6ff" stroke="#1ae6ff" stroke-width="0.6"/>
<polygon points="191.00,176.29 196.55,179.62 196.55,186.29 191.00,189.62 185.45,186.29 185.45,179.62" fill="#1ae6ff" stroke="#1ae6ff" stroke-width="0.6"/>
<polygon points="152.15,186.29 157.70,189.62 157.70,196.29 152.15,199.62 146.60,196.29 146.60,189.62" fill="#0df2ff" stroke="#0df2ff" stroke-width="0.6"/>
<polygon points="163.25,186.29 168.80,189.62 168.80,196.29 163.25,199.62 157.70,196.29 157.70,189.62" fill="#0df2ff" stroke="#0df2ff" stroke-width="0.6"/>
<polygon points="174.35,186.29 179.90,189.62 179.90,196.29 174.35,199.62 168.80,196.29 168.80,189.62" fill="#0df2ff" stroke="#0df2ff" stroke-width="0.6"/>
<polygon points="185.45,186.29 191.00,189.62 191.00,196.29 185.45,199.62 179.90,196.29 179.90,189.62" fill="#14ebff" stroke="#14ebff" stroke-width="0.6"/>
<polygon points="157.70,196.29 163.25,199.62 163.25,206.28 157.70,209.62 152.15,206.28 152.15,199.62" fill="#08f7ff" stroke="#08f7ff" stroke-width="0.6"/>
<polygon points="168.80,196.29 174.35,199.62 174.35,206.28 168.80,209.62 163.25,206.28 163.25,199.62" fill="#05faff" stroke="#05faff" stroke-width="0.6"/>
<polygon points="179.90,196.29 185.45,199.62 185.45,206.28 179.90,209.62 174.35,206.28 174.35,199.62" fill="#05faff" stroke="#05faff" stroke-width="0.6"/>
<polygon points="191.00,196.29 196.55,199.62 196.55,206.28 191.00,209.62 185.45,206.28 185.45,199.62" fill="#05faff" stroke="#05faff" stroke-width="0.6"/>
<text x="170.10" y="140.00" class="ttl" text-anchor="middle">Cl</text>
<rect x="205.30" y="146.60" width="7.20" height="64.10" fill="url(#cg)" stroke="#3a3a3a" stroke-width="0.8"/>
<line x1="211.50" y1="147.30" x2="212.50" y2="147.30" stroke="#444" stroke-width="0.5"/>
<text x="214.90" y="149.50" class="tk">2</text>
<line x1="211.50" y1="172.80" x2="212.50" y2="172.80" stroke="#444" stroke-width="0.5"/>
<text x="214.90" y="175.00" class="tk">1</text>
<line x1="211.50" y1="197.70" x2="212.50" y2="197.70" stroke="#444" stroke-width="0.5"/>
<text x="214.90" y="199.90" class="tk">0</text>
<polygon points="261.05,146.30 266.60,149.63 266.60,156.30 261.05,159.63 255.50,156.30 255.50,149.63" fill="#738cff" stroke="#738cff" stroke-width="0.6"/>
<polygon points="272.15,146.30 277.70,149.63 277.70,156.30 272.15,159.63 266.60,156.30 266.60,149.63" fill="#8c73ff" stroke="#8c73ff" stroke-width="0.6"/>
<polygon points="283.25,146.30 288.80,149.63 288.80,156.30 283.25,159.63 277.70,156.30 277.70,149.63" fill="#d926ff" stroke="#d926ff" stroke-width="0.6"/>
<polygon points="294.35,146.30 299.90,149.63 299.90,156.30 294.35,159.63 288.80,156.30 288.80,149.63" fill="#ff00ff" stroke="#ff00ff" stroke-width="0.6"/>
<polygon points="266.60,156.30 272.15,159.63 272.15,166.29 266.60,169.63 261.05,166.29 261.05,159.63" fill="#738cff" stroke="#738cff" stroke-width="0.6"/>
<polygon points="277.70,156.30 283.25,159.63 283.25,166.29 277.70,169.63 272.15,166.29 272.15,159.63" fill="#8c73ff" stroke="#8c73ff" stroke-width="0.6"/>
<polygon points="288.80,156.30 294.35,159.63 294.35,166.29 288.80,169.63 283.25,166.29 283.25,159.63" fill="#b24dff" stroke="#b24dff" stroke-width="0.6"/>
<polygon points="299.90,156.30 305.45,159.63 305.45,166.29 299.90,169.63 294.35,166.29 294.35,159.63" fill="#cc33ff" stroke="#cc33ff" stroke-width="0.6"/>
<polygon points="261.05,166.29 266.60,169.63 266.60,176.29 261.05,179.62 255.50,176.29 255.50,169.63" fill="#4cb2ff" stroke="#4cb2ff" stroke-width="0.6"/>
<polygon points="272.15,166.29 277.70,169.63 277.70,176.29 272.15,179.62 266.60,176.29 266.60,169.63" fill="#59a6ff" stroke="#59a6ff" stroke-width="0.6"/>
<polygon points="283.25,166.29 288.80,169.63 288.80,176.29 283.25,179.62 277.70,176.29 277.70,169.63" fill="#6699ff" stroke="#6699ff" stroke-width="0.6"/>
<polygon points="294.35,166.29 299.90,169.63 299.90,176.29 294.35,179.62 288.80,176.29 288.80,169.63" fill="#6699ff" stroke="#6699ff" stroke-width="0.6"/>
<polygon points="266.60,176.29 272.15,179.62 272.15,186.29 266.60,189.62 261.05,186.29 261.05,179.62" fill="#26d9ff" stroke="#26d9ff" stroke-width="0.6"/>
<polygon points="277.70,176.29 283.25,179.62 283.25,186.29 277.70,189.62 272.15,186.29 272.15,179.62" fill="#26d9ff" stroke="#26d9ff" stroke-width="0.6"/>
<polygon points="288.80,176.29 294.35,179.62 294.35,186.29 288.80,189.62 283.25,186.29 283.25,179.62" fill="#26d9ff" stroke="#26d9ff" stroke-width="0.6"/>
<polygon points="299.90,176.29 305.45,179.62 305.45,186.29 299.90,189.62 294.35,186.29 294.35,179.62" fill="#1fe0ff" stroke="#1fe0ff" stroke-width="0.6"/>
<polygon points="261.05,186.29 266.60,189.62 266.60,196.29 261.05,199.62 255.50,196.29 255.50,189.62" fill="#0df2ff" stroke="#0df2ff" stroke-width="0.6"/>
<polygon points="272.15,186.29 277.70,189.62 277.70,196.29 272.15,199.62 266.60,196.29 266.60,189.62" fill="#0df2ff" stroke="#0df2ff" stroke-width="0.6"/>
<polygon points="283.25,186.29 288.80,189.62 288.80,196.29 283.25,199.62 277.70,196.29 277.70,189.62" fill="#0ff0ff" stroke="#0ff0ff" stroke-width="0.6"/>
<polygon points="294.35,186.29 299.90,189.62 299.90,196.29 294.35,199.62 288.80,196.29 288.80,189.62" fill="#0df2ff" stroke="#0df2ff" stroke-width="0.6"/>
<polygon points="266.60,196.29 272.15,199.62 272.15,206.28 266.60,209.62 261.05,206.28 261.05,199.62" fill="#05faff" stroke="#05faff" stroke-width="0.6"/>
<polygon points="277.70,196.29 283.25,199.62 283.25,206.28 277.70,209.62 272.15,206.28 272.15,199.62" fill="#05faff" stroke="#05faff" stroke-width="0.6"/>
<polygon points="288.80,196.29 294.35,199.62 294.35,206.28 288.80,209.62 283.25,206.28 283.25,199.62" fill="#05faff" stroke="#05faff" stroke-width="0.6"/>
<polygon points="299.90,196.29 305.45,199.62 305.45,206.28 299.90,209.62 294.35,206.28 294.35,199.62" fill="#08f7ff" stroke="#08f7ff" stroke-width="0.6"/>
<text x="281.20" y="140.00" class="ttl" text-anchor="middle">SO4</text>
<rect x="314.30" y="146.60" width="7.40" height="64.10" fill="url(#cg)" stroke="#3a3a3a" stroke-width="0.8"/>
<line x1="320.70" y1="152.90" x2="321.70" y2="152.90" stroke="#444" stroke-width="0.5"/>
<text x="324.10" y="155.10" class="tk">1.5</text>
<line x1="320.70" y1="165.90" x2="321.70" y2="165.90" stroke="#444" stroke-width="0.5"/>
<text x="324.10" y="168.10" class="tk">1</text>
<line x1="320.70" y1="179.20" x2="321.70" y2="179.20" stroke="#444" stroke-width="0.5"/>
<text x="324.10" y="181.40" class="tk">0.5</text>
<line x1="320.70" y1="192.80" x2="321.70" y2="192.80" stroke="#444" stroke-width="0.5"/>
<text x="324.10" y="195.00" class="tk">0</text>
<line x1="320.70" y1="206.70" x2="321.70" y2="206.70" stroke="#444" stroke-width="0.5"/>
<text x="324.10" y="208.90" class="tk">-0.5</text>
<polygon points="374.65,146.30 380.20,149.63 380.20,156.30 374.65,159.63 369.10,156.30 369.10,149.63" fill="#ff00ff" stroke="#ff00ff" stroke-width="0.6"/>
<polygon points="385.75,146.30 391.30,149.63 391.30,156.30 385.75,159.63 380.20,156.30 380.20,149.63" fill="#b24dff" stroke="#b24dff" stroke-width="0.6"/>
<polygon points="396.85,146.30 402.40,149.63 402.40,156.30 396.85,159.63 391.30,156.30 391.30,149.63" fill="#33ccff" stroke="#33ccff" stroke-width="0.6"/>
<polygon points="407.95,146.30 413.50,149.63 413.50,156.30 407.95,159.63 402.40,156.30 402.40,149.63" fill="#0df2ff" stroke="#0df2ff" stroke-width="0.6"/>
<polygon points="380.20,156.30 385.75,159.63 385.75,166.29 380.20,169.63 374.65,166.29 374.65,159.63" fill="#a659ff" stroke="#a659ff" stroke-width="0.6"/>
<polygon points="391.30,156.30 396.85,159.63 396.85,166.29 391.30,169.63 385.75,166.29 385.75,159.63" fill="#59a6ff" stroke="#59a6ff" stroke-width="0.6"/>
<polygon points="402.40,156.30 407.95,159.63 407.95,166.29 402.40,169.63 396.85,166.29 396.85,159.63" fill="#26d9ff" stroke="#26d9ff" stroke-width="0.6"/>
<polygon points="413.50,156.30 419.05,159.63 419.05,166.29 413.50,169.63 407.95,166.29 407.95,159.63" fill="#08f7ff" stroke="#08f7ff" stroke-width="0.6"/>
<polygon points="374.65,166.29 380.20,169.63 380.20,176.29 374.65,179.62 369.10,176.29 369.10,169.63" fill="#738cff" stroke="#738cff" stroke-width="0.6"/>
<polygon points="385.75,166.29 391.30,169.63 391.30,176.29 385.75,179.62 380.20,176.29 380.20,169.63" fill="#59a6ff" stroke="#59a6ff" stroke-width="0.6"/>
<polygon points="396.85,166.29 402.40,169.63 402.40,176.29 396.85,179.62 391.30,176.29 391.30,169.63" fill="#33ccff" stroke="#33ccff" stroke-width="0.6"/>
<polygon points="407.95,166.29 413.50,169.63 413.50,176.29 407.95,179.62 402.40,176.29 402.40,169.63" fill="#0df2ff" stroke="#0df2ff" stroke-width="0.6"/>
<polygon points="380.20,176.29 385.75,179.62 385.75,186.29 380.20,189.62 374.65,186.29 374.65,179.62" fill="#4cb2ff" stroke="#4cb2ff" stroke-width="0.6"/>
<polygon points="391.30,176.29 396.85,179.62 396.85,186.29 391.30,189.62 385.75,186.29 385.75,179.62" fill="#40bfff" stroke="#40bfff" stroke-width="0.6"/>
<polygon points="402.40,176.29 407.95,179.62 407.95,186.29 402.40,189.62 396.85,186.29 396.85,179.62" fill="#1fe0ff" stroke="#1fe0ff" stroke-width="0.6"/>
<polygon points="413.50,176.29 419.05,179.62 419.05,186.29 413.50,189.62 407.95,186.29 407.95,179.62" fill="#08f7ff" stroke="#08f7ff" stroke-width="0.6"/>
<polygon points="374.65,186.29 380.20,189.62 380.20,196.29 374.65,199.62 369.10,196.29 369.10,189.62" fill="#4cb2ff" stroke="#4cb2ff" stroke-width="0.6"/>
<polygon points="385.75,186.29 391.30,189.62 391.30,196.29 385.75,199.62 380.20,196.29 380.20,189.62" fill="#33ccff" stroke="#33ccff" stroke-width="0.6"/>
<polygon points="396.85,186.29 402.40,189.62 402.40,196.29 396.85,199.62 391.30,196.29 391.30,189.62" fill="#1ae6ff" stroke="#1ae6ff" stroke-width="0.6"/>
<polygon points="407.95,186.29 413.50,189.62 413.50,196.29 407.95,199.62 402.40,196.29 402.40,189.62" fill="#0df2ff" stroke="#0df2ff" stroke-width="0.6"/>
<polygon points="380.20,196.29 385.75,199.62 385.75,206.28 380.20,209.62 374.65,206.28 374.65,199.62" fill="#33ccff" stroke="#33ccff" stroke-width="0.6"/>
<polygon points="391.30,196.29 396.85,199.62 396.85,206.28 391.30,209.62 385.75,206.28 385.75,199.62" fill="#26d9ff" stroke="#26d9ff" stroke-width="0.6"/>
<polygon points="402.40,196.29 407.95,199.62 407.95,206.28 402.40,209.62 396.85,206.28 396.85,199.62" fill="#1ae6ff" stroke="#1ae6ff" stroke-width="0.6"/>
<polygon points="413.50,196.29 419.05,199.62 419.05,206.28 413.50,209.62 407.95,206.28 407.95,199.62" fill="#0df2ff" stroke="#0df2ff" stroke-width="0.6"/>
<text x="392.50" y="140.00" class="ttl" text-anchor="middle">NO3</text>
<rect x="426.80" y="145.90" width="7.60" height="63.50" fill="url(#cg)" stroke="#3a3a3a" stroke-width="0.8"/>
<line x1="433.40" y1="150.90" x2="434.40" y2="150.90" stroke="#444" stroke-width="0.5"/>
<text x="436.80" y="153.10" class="tk">1.5</text>
<line x1="433.40" y1="164.20" x2="434.40" y2="164.20" stroke="#444" stroke-width="0.5"/>
<text x="436.80" y="166.40" class="tk">1</text>
<line x1="433.40" y1="177.70" x2="434.40" y2="177.70" stroke="#444" stroke-width="0.5"/>
<text x="436.80" y="179.90" class="tk">0.5</text>
<line x1="433.40" y1="190.30" x2="434.40" y2="190.30" stroke="#444" stroke-width="0.5"/>
<text x="436.80" y="192.50" class="tk">0</text>
<line x1="433.40" y1="203.60" x2="434.40" y2="203.60" stroke="#444" stroke-width="0.5"/>
<text x="436.80" y="205.80" class="tk">-0.5</text>
<polygon points="38.95,256.50 44.50,259.83 44.50,266.50 38.95,269.83 33.40,266.50 33.40,259.83" fill="#40bfff" stroke="#40bfff" stroke-width="0.6"/>
<polygon points="50.05,256.50 55.60,259.83 55.60,266.50 50.05,269.83 44.50,266.50 44.50,259.83" fill="#619eff" stroke="#619eff" stroke-width="0.6"/>
<polygon points="61.15,256.50 66.70,259.83 66.70,266.50 61.15,269.83 55.60,266.50 55.60,259.83" fill="#b24dff" stroke="#b24dff" stroke-width="0.6"/>
<polygon points="72.25,256.50 77.80,259.83 77.80,266.50 72.25,269.83 66.70,266.50 66.70,259.83" fill="#f20dff" stroke="#f20dff" stroke-width="0.6"/>
<polygon points="44.50,266.50 50.05,269.83 50.05,276.49 44.50,279.83 38.95,276.49 38.95,269.83" fill="#26d9ff" stroke="#26d9ff" stroke-width="0.6"/>
<polygon points="55.60,266.50 61.15,269.83 61.15,276.49 55.60,279.83 50.05,276.49 50.05,269.83" fill="#59a6ff" stroke="#59a6ff" stroke-width="0.6"/>
<polygon points="66.70,266.50 72.25,269.83 72.25,276.49 66.70,279.83 61.15,276.49 61.15,269.83" fill="#d926ff" stroke="#d926ff" stroke-width="0.6"/>
<polygon points="77.80,266.50 83.35,269.83 83.35,276.49 77.80,279.83 72.25,276.49 72.25,269.83" fill="#ff00ff" stroke="#ff00ff" stroke-width="0.6"/>
<polygon points="38.95,276.49 44.50,279.83 44.50,286.49 38.95,289.82 33.40,286.49 33.40,279.83" fill="#0df2ff" stroke="#0df2ff" stroke-width="0.6"/>
<polygon points="50.05,276.49 55.60,279.83 55.60,286.49 50.05,289.82 44.50,286.49 44.50,279.83" fill="#26d9ff" stroke="#26d9ff" stroke-width="0.6"/>
<polygon points="61.15,276.49 66.70,279.83 66.70,286.49 61.15,289.82 55.60,286.49 55.60,279.83" fill="#59a6ff" stroke="#59a6ff" stroke-width="0.6"/>
<polygon points="72.25,276.49 77.80,279.83 77.80,286.49 72.25,289.82 66.70,286.49 66.70,279.83" fill="#bf40ff" stroke="#bf40ff" stroke-width="0.6"/>
<polygon points="44.50,286.49 50.05,289.82 50.05,296.49 44.50,299.82 38.95,296.49 38.95,289.82" fill="#05faff" stroke="#05faff" stroke-width="0.6"/>
<polygon points="55.60,286.49 61.15,289.82 61.15,296.49 55.60,299.82 50.05,296.49 50.05,289.82" fill="#14ebff" stroke="#14ebff" stroke-width="0.6"/>
<polygon points="66.70,286.49 72.25,289.82 72.25,296.49 66.70,299.82 61.15,296.49 61.15,289.82" fill="#40bfff" stroke="#40bfff" stroke-width="0.6"/>
<polygon points="77.80,286.49 83.35,289.82 83.35,296.49 77.80,299.82 72.25,296.49 72.25,289.82" fill="#738cff" stroke="#738cff" stroke-width="0.6"/>
<polygon points="38.95,296.49 44.50,299.82 44.50,306.49 38.95,309.82 33.40,306.49 33.40,299.82" fill="#05faff" stroke="#05faff" stroke-width="0.6"/>
<polygon points="50.05,296.49 55.60,299.82 55.60,306.49 50.05,309.82 44.50,306.49 44.50,299.82" fill="#08f7ff" stroke="#08f7ff" stroke-width="0.6"/>
<polygon points="61.15,296.49 66.70,299.82 66.70,306.49 61.15,309.82 55.60,306.49 55.60,299.82" fill="#14ebff" stroke="#14ebff" stroke-width="0.6"/>
<polygon points="72.25,296.49 77.80,299.82 77.80,306.49 72.25,309.82 66.70,306.49 66.70,299.82" fill="#1fe0ff" stroke="#1fe0ff" stroke-width="0.6"/>
<polygon points="44.50,306.49 50.05,309.82 50.05,316.48 44.50,319.82 38.95,316.48 38.95,309.82" fill="#05faff" stroke="#05faff" stroke-width="0.6"/>
<polygon points="55.60,306.49 61.15,309.82 61.15,316.48 55.60,319.82 50.05,316.48 50.05,309.82" fill="#05faff" stroke="#05faff" stroke-width="0.6"/>
<polygon points="66.70,306.49 72.25,309.82 72.25,316.48 66.70,319.82 61.15,316.48 61.15,309.82" fill="#08f7ff" stroke="#08f7ff" stroke-width="0.6"/>
<polygon points="77.80,306.49 83.35,309.82 83.35,316.48 77.80,319.82 72.25,316.48 72.25,309.82" fill="#0df2ff" stroke="#0df2ff" stroke-width="0.6"/>
<text x="56.00" y="249.60" class="ttl" text-anchor="middle">HCO3</text>
<rect x="91.60" y="256.60" width="8.00" height="64.00" fill="url(#cg)" stroke="#3a3a3a" stroke-width="0.8"/>
<line x1="98.60" y1="265.80" x2="99.60" y2="265.80" stroke="#444" stroke-width="0.5"/>
<text x="102.00" y="268.00" class="tk">1.5</text>
<line x1="98.60" y1="278.40" x2="99.60" y2="278.40" stroke="#444" stroke-width="0.5"/>
<text x="102.00" y="280.60" class="tk">1</text>
<line x1="98.60" y1="292.30" x2="99.60" y2="292.30" stroke="#444" stroke-width="0.5"/>
<text x="102.00" y="294.50" class="tk">0.5</text>
<line x1="98.60" y1="305.00" x2="99.60" y2="305.00" stroke="#444" stroke-width="0.5"/>
<text x="102.00" y="307.20" class="tk">0</text>
<line x1="98.60" y1="318.60" x2="99.60" y2="318.60" stroke="#444" stroke-width="0.5"/>
<text x="102.00" y="320.80" class="tk">-0.5</text>
<polygon points="152.15,256.50 157.70,259.83 157.70,266.50 152.15,269.83 146.60,266.50 146.60,259.83" fill="#ff00ff" stroke="#ff00ff" stroke-width="0.6"/>
<polygon points="163.25,256.50 168.80,259.83 168.80,266.50 163.25,269.83 157.70,266.50 157.70,259.83" fill="#cc33ff" stroke="#cc33ff" stroke-width="0.6"/>
<polygon points="174.35,256.50 179.90,259.83 179.90,266.50 174.35,269.83 168.80,266.50 168.80,259.83" fill="#b24dff" stroke="#b24dff" stroke-width="0.6"/>
<polygon points="185.45,256.50 191.00,259.83 191.00,266.50 185.45,269.83 179.90,266.50 179.90,259.83" fill="#b24dff" stroke="#b24dff" stroke-width="0.6"/>
<polygon points="157.70,266.50 163.25,269.83 163.25,276.49 157.70,279.83 152.15,276.49 152.15,269.83" fill="#9966ff" stroke="#9966ff" stroke-width="0.6"/>
<polygon points="168.80,266.50 174.35,269.83 174.35,276.49 168.80,279.83 163.25,276.49 163.25,269.83" fill="#8080ff" stroke="#8080ff" stroke-width="0.6"/>
<polygon points="179.90,266.50 185.45,269.83 185.45,276.49 179.90,279.83 174.35,276.49 174.35,269.83" fill="#738cff" stroke="#738cff" stroke-width="0.6"/>
<polygon points="191.00,266.50 196.55,269.83 196.55,276.49 191.00,279.83 185.45,276.49 185.45,269.83" fill="#738cff" stroke="#738cff" stroke-width="0.6"/>
<polygon points="152.15,276.49 157.70,279.83 157.70,286.49 152.15,289.82 146.60,286.49 146.60,279.83" fill="#59a6ff" stroke="#59a6ff" stroke-width="0.6"/>
<polygon points="163.25,276.49 168.80,279.83 168.80,286.49 163.25,289.82 157.70,286.49 157.70,279.83" fill="#4cb2ff" stroke="#4cb2ff" stroke-width="0.6"/>
<polygon points="174.35,276.49 179.90,279.83 179.90,286.49 174.35,289.82 168.80,286.49 168.80,279.83" fill="#40bfff" stroke="#40bfff" stroke-width="0.6"/>
<polygon points="185.45,276.49 191.00,279.83 191.00,286.49 185.45,289.82 179.90,286.49 179.90,279.83" fill="#33ccff" stroke="#33ccff" stroke-width="0.6"/>
<polygon points="157.70,286.49 163.25,289.82 163.25,296.49 157.70,299.82 152.15,296.49 152.15,289.82" fill="#26d9ff" stroke="#26d9ff" stroke-width="0.6"/>
<polygon points="168.80,286.49 174.35,289.82 174.35,296.49 168.80,299.82 163.25,296.49 163.25,289.82" fill="#26d9ff" stroke="#26d9ff" stroke-width="0.6"/>
<polygon points="179.90,286.49 185.45,289.82 185.45,296.49 179.90,299.82 174.35,296.49 174.35,289.82" fill="#1fe0ff" stroke="#1fe0ff" stroke-width="0.6"/>
<polygon points="191.00,286.49 196.55,289.82 196.55,296.49 191.00,299.82 185.45,296.49 185.45,289.82" fill="#0df2ff" stroke="#0df2ff" stroke-width="0.6"/>
<polygon points="152.15,296.49 157.70,299.82 157.70,306.49 152.15,309.82 146.60,306.49 146.60,299.82" fill="#0df2ff" stroke="#0df2ff" stroke-width="0.6"/>
<polygon points="163.25,296.49 168.80,299.82 168.80,306.49 163.25,309.82 157.70,306.49 157.70,299.82" fill="#14ebff" stroke="#14ebff" stroke-width="0.6"/>
<polygon points="174.35,296.49 179.90,299.82 179.90,306.49 174.35,309.82 168.80,306.49 168.80,299.82" fill="#14ebff" stroke="#14ebff" stroke-width="0.6"/>
<polygon points="185.45,296.49 191.00,299.82 191.00,306.49 185.45,309.82 179.90,306.49 179.90,299.82" fill="#14ebff" stroke="#14ebff" stroke-width="0.6"/>
<polygon points="157.70,306.49 163.25,309.82 163.25,316.48 157.70,319.82 152.15,316.48 152.15,309.82" fill="#0df2ff" stroke="#0df2ff" stroke-width="0.6"/>
<polygon points="168.80,306.49 174.35,309.82 174.35,316.48 168.80,319.82 163.25,316.48 163.25,309.82" fill="#0df2ff" stroke="#0df2ff" stroke-width="0.6"/>
<polygon points="179.90,306.49 185.45,309.82 185.45,316.48 179.90,319.82 174.35,316.48 174.35,309.82" fill="#0df2ff" stroke="#0df2ff" stroke-width="0.6"/>
<polygon points="191.00,306.49 196.55,309.82 196.55,316.48 191.00,319.82 185.45,316.48 185.45,309.82" fill="#0df2ff" stroke="#0df2ff" stroke-width="0.6"/>
<text x="171.90" y="249.60" class="ttl" text-anchor="middle">Sr</text>
<rect x="205.30" y="256.50" width="7.20" height="64.20" fill="url(#cg)" stroke="#3a3a3a" stroke-width="0.8"/>
<line x1="211.50" y1="269.30" x2="212.50" y2="269.30" stroke="#444" stroke-width="0.5"/>
<text x="214.90" y="271.50" class="tk">1</text>
<line x1="211.50" y1="284.80" x2="212.50" y2="284.80" stroke="#444" stroke-width="0.5"/>
<text x="214.90" y="287.00" class="tk">0.5</text>
<line x1="211.50" y1="300.80" x2="212.50" y2="300.80" stroke="#444" stroke-width="0.5"/>
<text x="214.90" y="303.00" class="tk">0</text>
<line x1="211.50" y1="316.70" x2="212.50" y2="316.70" stroke="#444" stroke-width="0.5"/>
<text x="214.90" y="318.90" class="tk">-0.5</text>
<polygon points="261.05,256.50 266.60,259.83 266.60,266.50 261.05,269.83 255.50,266.50 255.50,259.83" fill="#ff00ff" stroke="#ff00ff" stroke-width="0.6"/>
<polygon points="272.15,256.50 277.70,259.83 277.70,266.50 272.15,269.83 266.60,266.50 266.60,259.83" fill="#fa05ff" stroke="#fa05ff" stroke-width="0.6"/>
<polygon points="283.25,256.50 288.80,259.83 288.80,266.50 283.25,269.83 277.70,266.50 277.70,259.83" fill="#e01fff" stroke="#e01fff" stroke-width="0.6"/>
<polygon points="294.35,256.50 299.90,259.83 299.90,266.50 294.35,269.83 288.80,266.50 288.80,259.83" fill="#b847ff" stroke="#b847ff" stroke-width="0.6"/>
<polygon points="266.60,266.50 272.15,269.83 272.15,276.49 266.60,279.83 261.05,276.49 261.05,269.83" fill="#ff00ff" stroke="#ff00ff" stroke-width="0.6"/>
<polygon points="277.70,266.50 283.25,269.83 283.25,276.49 277.70,279.83 272.15,276.49 272.15,269.83" fill="#cc33ff" stroke="#cc33ff" stroke-width="0.6"/>
<polygon points="288.80,266.50 294.35,269.83 294.35,276.49 288.80,279.83 283.25,276.49 283.25,269.83" fill="#8c73ff" stroke="#8c73ff" stroke-width="0.6"/>
<polygon points="299.90,266.50 305.45,269.83 305.45,276.49 299.90,279.83 294.35,276.49 294.35,269.83" fill="#6b94ff" stroke="#6b94ff" stroke-width="0.6"/>
<polygon points="261.05,276.49 266.60,279.83 266.60,286.49 261.05,289.82 255.50,286.49 255.50,279.83" fill="#cc33ff" stroke="#cc33ff" stroke-width="0.6"/>
<polygon points="272.15,276.49 277.70,279.83 277.70,286.49 272.15,289.82 266.60,286.49 266.60,279.83" fill="#bf40ff" stroke="#bf40ff" stroke-width="0.6"/>
<polygon points="283.25,276.49 288.80,279.83 288.80,286.49 283.25,289.82 277.70,286.49 277.70,279.83" fill="#6699ff" stroke="#6699ff" stroke-width="0.6"/>
<polygon points="294.35,276.49 299.90,279.83 299.90,286.49 294.35,289.82 288.80,286.49 288.80,279.83" fill="#33ccff" stroke="#33ccff" stroke-width="0.6"/>
<polygon points="266.60,286.49 272.15,289.82 272.15,296.49 266.60,299.82 261.05,296.49 261.05,289.82" fill="#6699ff" stroke="#6699ff" stroke-width="0.6"/>
<polygon points="277.70,286.49 283.25,289.82 283.25,296.49 277.70,299.82 272.15,296.49 272.15,289.82" fill="#6699ff" stroke="#6699ff" stroke-width="0.6"/>
<polygon points="288.80,286.49 294.35,289.82 294.35,296.49 288.80,299.82 283.25,296.49 283.25,289.82" fill="#40bfff" stroke="#40bfff" stroke-width="0.6"/>
<polygon points="299.90,286.49 305.45,289.82 305.45,296.49 299.90,299.82 294.35,296.49 294.35,289.82" fill="#1ae6ff" stroke="#1ae6ff" stroke-width="0.6"/>
<polygon points="261.05,296.49 266.60,299.82 266.60,306.49 261.05,309.82 255.50,306.49 255.50,299.82" fill="#26d9ff" stroke="#26d9ff" stroke-width="0.6"/>
<polygon points="272.15,296.49 277.70,299.82 277.70,306.49 272.15,309.82 266.60,306.49 266.60,299.82" fill="#40bfff" stroke="#40bfff" stroke-width="0.6"/>
<polygon points="283.25,296.49 288.80,299.82 288.80,306.49 283.25,309.82 277.70,306.49 277.70,299.82" fill="#4cb2ff" stroke="#4cb2ff" stroke-width="0.6"/>
<polygon points="294.35,296.49 299.90,299.82 299.90,306.49 294.35,309.82 288.80,306.49 288.80,299.82" fill="#33ccff" stroke="#33ccff" stroke-width="0.6"/>
<polygon points="266.60,306.49 272.15,309.82 272.15,316.48 266.60,319.82 261.05,316.48 261.05,309.82" fill="#0df2ff" stroke="#0df2ff" stroke-width="0.6"/>
<polygon points="277.70,306.49 283.25,309.82 283.25,316.48 277.70,319.82 272.15,316.48 272.15,309.82" fill="#40bfff" stroke="#40bfff" stroke-width="0.6"/>
<polygon points="288.80,306.49 294.35,309.82 294.35,316.48 288.80,319.82 283.25,316.48 283.25,309.82" fill="#4cb2ff" stroke="#4cb2ff" stroke-width="0.6"/>
<polygon points="299.90,306.49 305.45,309.82 305.45,316.48 299.90,319.82 294.35,316.48 294.35,309.82" fill="#40bfff" stroke="#40bfff" stroke-width="0.6"/>
<text x="281.60" y="249.60" class="ttl" text-anchor="middle" textLength="41.3" lengthAdjust="spacingAndGlyphs">87Sr/86Sr</text>
<rect x="314.30" y="256.50" width="7.40" height="64.20" fill="url(#cg)" stroke="#3a3a3a" stroke-width="0.8"/>
<line x1="320.70" y1="257.90" x2="321.70" y2="257.90" stroke="#444" stroke-width="0.5"/>
<text x="324.10" y="260.10" class="tk">1</text>
<line x1="320.70" y1="276.50" x2="321.70" y2="276.50" stroke="#444" stroke-width="0.5"/>
<text x="324.10" y="278.70" class="tk">0.5</text>
<line x1="320.70" y1="293.40" x2="321.70" y2="293.40" stroke="#444" stroke-width="0.5"/>
<text x="324.10" y="295.60" class="tk">0</text>
<line x1="320.70" y1="311.10" x2="321.70" y2="311.10" stroke="#444" stroke-width="0.5"/>
<text x="324.10" y="313.30" class="tk">-0.5</text>
<polygon points="374.65,255.40 380.20,258.73 380.20,265.40 374.65,268.73 369.10,265.40 369.10,258.73" fill="#ff00ff" stroke="#ff00ff" stroke-width="0.6"/>
<polygon points="385.75,255.40 391.30,258.73 391.30,265.40 385.75,268.73 380.20,265.40 380.20,258.73" fill="#e619ff" stroke="#e619ff" stroke-width="0.6"/>
<polygon points="396.85,255.40 402.40,258.73 402.40,265.40 396.85,268.73 391.30,265.40 391.30,258.73" fill="#a659ff" stroke="#a659ff" stroke-width="0.6"/>
<polygon points="407.95,255.40 413.50,258.73 413.50,265.40 407.95,268.73 402.40,265.40 402.40,258.73" fill="#8080ff" stroke="#8080ff" stroke-width="0.6"/>
<polygon points="380.20,265.40 385.75,268.73 385.75,275.39 380.20,278.73 374.65,275.39 374.65,268.73" fill="#ff00ff" stroke="#ff00ff" stroke-width="0.6"/>
<polygon points="391.30,265.40 396.85,268.73 396.85,275.39 391.30,278.73 385.75,275.39 385.75,268.73" fill="#eb14ff" stroke="#eb14ff" stroke-width="0.6"/>
<polygon points="402.40,265.40 407.95,268.73 407.95,275.39 402.40,278.73 396.85,275.39 396.85,268.73" fill="#bf40ff" stroke="#bf40ff" stroke-width="0.6"/>
<polygon points="413.50,265.40 419.05,268.73 419.05,275.39 413.50,278.73 407.95,275.39 407.95,268.73" fill="#b24dff" stroke="#b24dff" stroke-width="0.6"/>
<polygon points="374.65,275.39 380.20,278.73 380.20,285.39 374.65,288.72 369.10,285.39 369.10,278.73" fill="#e619ff" stroke="#e619ff" stroke-width="0.6"/>
<polygon points="385.75,275.39 391.30,278.73 391.30,285.39 385.75,288.72 380.20,285.39 380.20,278.73" fill="#e619ff" stroke="#e619ff" stroke-width="0.6"/>
<polygon points="396.85,275.39 402.40,278.73 402.40,285.39 396.85,288.72 391.30,285.39 391.30,278.73" fill="#e619ff" stroke="#e619ff" stroke-width="0.6"/>
<polygon points="407.95,275.39 413.50,278.73 413.50,285.39 407.95,288.72 402.40,285.39 402.40,278.73" fill="#e619ff" stroke="#e619ff" stroke-width="0.6"/>
<polygon points="380.20,285.39 385.75,288.72 385.75,295.39 380.20,298.72 374.65,295.39 374.65,288.72" fill="#b24dff" stroke="#b24dff" stroke-width="0.6"/>
<polygon points="391.30,285.39 396.85,288.72 396.85,295.39 391.30,298.72 385.75,295.39 385.75,288.72" fill="#b24dff" stroke="#b24dff" stroke-width="0.6"/>
<polygon points="402.40,285.39 407.95,288.72 407.95,295.39 402.40,298.72 396.85,295.39 396.85,288.72" fill="#b24dff" stroke="#b24dff" stroke-width="0.6"/>
<polygon points="413.50,285.39 419.05,288.72 419.05,295.39 413.50,298.72 407.95,295.39 407.95,288.72" fill="#b24dff" stroke="#b24dff" stroke-width="0.6"/>
<polygon points="374.65,295.39 380.20,298.72 380.20,305.39 374.65,308.72 369.10,305.39 369.10,298.72" fill="#738cff" stroke="#738cff" stroke-width="0.6"/>
<polygon points="385.75,295.39 391.30,298.72 391.30,305.39 385.75,308.72 380.20,305.39 380.20,298.72" fill="#738cff" stroke="#738cff" stroke-width="0.6"/>
<polygon points="396.85,295.39 402.40,298.72 402.40,305.39 396.85,308.72 391.30,305.39 391.30,298.72" fill="#6699ff" stroke="#6699ff" stroke-width="0.6"/>
<polygon points="407.95,295.39 413.50,298.72 413.50,305.39 407.95,308.72 402.40,305.39 402.40,298.72" fill="#40bfff" stroke="#40bfff" stroke-width="0.6"/>
<polygon points="380.20,305.39 385.75,308.72 385.75,315.38 380.20,318.72 374.65,315.38 374.65,308.72" fill="#4cb2ff" stroke="#4cb2ff" stroke-width="0.6"/>
<polygon points="391.30,305.39 396.85,308.72 396.85,315.38 391.30,318.72 385.75,315.38 385.75,308.72" fill="#4cb2ff" stroke="#4cb2ff" stroke-width="0.6"/>
<polygon points="402.40,305.39 407.95,308.72 407.95,315.38 402.40,318.72 396.85,315.38 396.85,308.72" fill="#33ccff" stroke="#33ccff" stroke-width="0.6"/>
<polygon points="413.50,305.39 419.05,308.72 419.05,315.38 413.50,318.72 407.95,315.38 407.95,308.72" fill="#05faff" stroke="#05faff" stroke-width="0.6"/>
<text x="394.40" y="249.60" class="ttl" text-anchor="middle">O</text>
<rect x="426.90" y="255.40" width="7.30" height="63.50" fill="url(#cg)" stroke="#3a3a3a" stroke-width="0.8"/>
<line x1="433.20" y1="266.80" x2="434.20" y2="266.80" stroke="#444" stroke-width="0.5"/>
<text x="436.60" y="269.00" class="tk">0.5</text>
<line x1="433.20" y1="282.20" x2="434.20" y2="282.20" stroke="#444" stroke-width="0.5"/>
<text x="436.60" y="284.40" class="tk">0</text>
<line x1="433.20" y1="296.30" x2="434.20" y2="296.30" stroke="#444" stroke-width="0.5"/>
<text x="436.60" y="298.50" class="tk">-0.5</text>
<line x1="433.20" y1="311.20" x2="434.20" y2="311.20" stroke="#444" stroke-width="0.5"/>
<text x="436.60" y="313.40" class="tk">-1</text>
<polygon points="38.95,366.50 44.50,369.83 44.50,376.50 38.95,379.83 33.40,376.50 33.40,369.83" fill="#ff00ff" stroke="#ff00ff" stroke-width="0.6"/>
<polygon points="50.05,366.50 55.60,369.83 55.60,376.50 50.05,379.83 44.50,376.50 44.50,369.83" fill="#e01fff" stroke="#e01fff" stroke-width="0.6"/>
<polygon points="61.15,366.50 66.70,369.83 66.70,376.50 61.15,379.83 55.60,376.50 55.60,369.83" fill="#8080ff" stroke="#8080ff" stroke-width="0.6"/>
<polygon points="72.25,366.50 77.80,369.83 77.80,376.50 72.25,379.83 66.70,376.50 66.70,369.83" fill="#4cb2ff" stroke="#4cb2ff" stroke-width="0.6"/>
<polygon points="44.50,376.50 50.05,379.83 50.05,386.49 44.50,389.83 38.95,386.49 38.95,379.83" fill="#f708ff" stroke="#f708ff" stroke-width="0.6"/>
<polygon points="55.60,376.50 61.15,379.83 61.15,386.49 55.60,389.83 50.05,386.49 50.05,379.83" fill="#e01fff" stroke="#e01fff" stroke-width="0.6"/>
<polygon points="66.70,376.50 72.25,379.83 72.25,386.49 66.70,389.83 61.15,386.49 61.15,379.83" fill="#9e61ff" stroke="#9e61ff" stroke-width="0.6"/>
<polygon points="77.80,376.50 83.35,379.83 83.35,386.49 77.80,389.83 72.25,386.49 72.25,379.83" fill="#8c73ff" stroke="#8c73ff" stroke-width="0.6"/>
<polygon points="38.95,386.49 44.50,389.83 44.50,396.49 38.95,399.82 33.40,396.49 33.40,389.83" fill="#d926ff" stroke="#d926ff" stroke-width="0.6"/>
<polygon points="50.05,386.49 55.60,389.83 55.60,396.49 50.05,399.82 44.50,396.49 44.50,389.83" fill="#d926ff" stroke="#d926ff" stroke-width="0.6"/>
<polygon points="61.15,386.49 66.70,389.83 66.70,396.49 61.15,399.82 55.60,396.49 55.60,389.83" fill="#d926ff" stroke="#d926ff" stroke-width="0.6"/>
<polygon points="72.25,386.49 77.80,389.83 77.80,396.49 72.25,399.82 66.70,396.49 66.70,389.83" fill="#e619ff" stroke="#e619ff" stroke-width="0.6"/>
<polygon points="44.50,396.49 50.05,399.82 50.05,406.49 44.50,409.82 38.95,406.49 38.95,399.82" fill="#9966ff" stroke="#9966ff" stroke-width="0.6"/>
<polygon points="55.60,396.49 61.15,399.82 61.15,406.49 55.60,409.82 50.05,406.49 50.05,399.82" fill="#a659ff" stroke="#a659ff" stroke-width="0.6"/>
<polygon points="66.70,396.49 72.25,399.82 72.25,406.49 66.70,409.82 61.15,406.49 61.15,399.82" fill="#a659ff" stroke="#a659ff" stroke-width="0.6"/>
<polygon points="77.80,396.49 83.35,399.82 83.35,406.49 77.80,409.82 72.25,406.49 72.25,399.82" fill="#a659ff" stroke="#a659ff" stroke-width="0.6"/>
<polygon points="38.95,406.49 44.50,409.82 44.50,416.49 38.95,419.82 33.40,416.49 33.40,409.82" fill="#59a6ff" stroke="#59a6ff" stroke-width="0.6"/>
<polygon points="50.05,406.49 55.60,409.82 55.60,416.49 50.05,419.82 44.50,416.49 44.50,409.82" fill="#6699ff" stroke="#6699ff" stroke-width="0.6"/>
<polygon points="61.15,406.49 66.70,409.82 66.70,416.49 61.15,419.82 55.60,416.49 55.60,409.82" fill="#6699ff" stroke="#6699ff" stroke-width="0.6"/>
<polygon points="72.25,406.49 77.80,409.82 77.80,416.49 72.25,419.82 66.70,416.49 66.70,409.82" fill="#4cb2ff" stroke="#4cb2ff" stroke-width="0.6"/>
<polygon points="44.50,416.49 50.05,419.82 50.05,426.48 44.50,429.82 38.95,426.48 38.95,419.82" fill="#40bfff" stroke="#40bfff" stroke-width="0.6"/>
<polygon points="55.60,416.49 61.15,419.82 61.15,426.48 55.60,429.82 50.05,426.48 50.05,419.82" fill="#4cb2ff" stroke="#4cb2ff" stroke-width="0.6"/>
<polygon points="66.70,416.49 72.25,419.82 72.25,426.48 66.70,429.82 61.15,426.48 61.15,419.82" fill="#33ccff" stroke="#33ccff" stroke-width="0.6"/>
<polygon points="77.80,416.49 83.35,419.82 83.35,426.48 77.80,429.82 72.25,426.48 72.25,419.82" fill="#05faff" stroke="#05faff" stroke-width="0.6"/>
<text x="60.60" y="359.40" class="ttl" text-anchor="middle">H</text>
<rect x="91.60" y="366.50" width="8.00" height="63.70" fill="url(#cg)" stroke="#3a3a3a" stroke-width="0.8"/>
<line x1="98.60" y1="368.90" x2="99.60" y2="368.90" stroke="#444" stroke-width="0.5"/>
<text x="102.00" y="371.10" class="tk">1</text>
<line x1="98.60" y1="398.30" x2="99.60" y2="398.30" stroke="#444" stroke-width="0.5"/>
<text x="102.00" y="400.50" class="tk">0</text>
<line x1="98.60" y1="427.60" x2="99.60" y2="427.60" stroke="#444" stroke-width="0.5"/>
<text x="102.00" y="429.80" class="tk">-1</text>
<polygon points="152.15,366.50 157.70,369.83 157.70,376.50 152.15,379.83 146.60,376.50 146.60,369.83" fill="#0df2ff" stroke="#0df2ff" stroke-width="0.6"/>
<polygon points="163.25,366.50 168.80,369.83 168.80,376.50 163.25,379.83 157.70,376.50 157.70,369.83" fill="#08f7ff" stroke="#08f7ff" stroke-width="0.6"/>
<polygon points="174.35,366.50 179.90,369.83 179.90,376.50 174.35,379.83 168.80,376.50 168.80,369.83" fill="#05faff" stroke="#05faff" stroke-width="0.6"/>
<polygon points="185.45,366.50 191.00,369.83 191.00,376.50 185.45,379.83 179.90,376.50 179.90,369.83" fill="#0df2ff" stroke="#0df2ff" stroke-width="0.6"/>
<polygon points="157.70,376.50 163.25,379.83 163.25,386.49 157.70,389.83 152.15,386.49 152.15,379.83" fill="#0df2ff" stroke="#0df2ff" stroke-width="0.6"/>
<polygon points="168.80,376.50 174.35,379.83 174.35,386.49 168.80,389.83 163.25,386.49 163.25,379.83" fill="#0df2ff" stroke="#0df2ff" stroke-width="0.6"/>
<polygon points="179.90,376.50 185.45,379.83 185.45,386.49 179.90,389.83 174.35,386.49 174.35,379.83" fill="#0df2ff" stroke="#0df2ff" stroke-width="0.6"/>
<polygon points="191.00,376.50 196.55,379.83 196.55,386.49 191.00,389.83 185.45,386.49 185.45,379.83" fill="#0df2ff" stroke="#0df2ff" stroke-width="0.6"/>
<polygon points="152.15,386.49 157.70,389.83 157.70,396.49 152.15,399.82 146.60,396.49 146.60,389.83" fill="#14ebff" stroke="#14ebff" stroke-width="0.6"/>
<polygon points="163.25,386.49 168.80,389.83 168.80,396.49 163.25,399.82 157.70,396.49 157.70,389.83" fill="#1fe0ff" stroke="#1fe0ff" stroke-width="0.6"/>
<polygon points="174.35,386.49 179.90,389.83 179.90,396.49 174.35,399.82 168.80,396.49 168.80,389.83" fill="#1fe0ff" stroke="#1fe0ff" stroke-width="0.6"/>
<polygon points="185.45,386.49 191.00,389.83 191.00,396.49 185.45,399.82 179.90,396.49 179.90,389.83" fill="#26d9ff" stroke="#26d9ff" stroke-width="0.6"/>
<polygon points="157.70,396.49 163.25,399.82 163.25,406.49 157.70,409.82 152.15,406.49 152.15,399.82" fill="#33ccff" stroke="#33ccff" stroke-width="0.6"/>
<polygon points="168.80,396.49 174.35,399.82 174.35,406.49 168.80,409.82 163.25,406.49 163.25,399.82" fill="#4cb2ff" stroke="#4cb2ff" stroke-width="0.6"/>
<polygon points="179.90,396.49 185.45,399.82 185.45,406.49 179.90,409.82 174.35,406.49 174.35,399.82" fill="#6699ff" stroke="#6699ff" stroke-width="0.6"/>
<polygon points="191.00,396.49 196.55,399.82 196.55,406.49 191.00,409.82 185.45,406.49 185.45,399.82" fill="#738cff" stroke="#738cff" stroke-width="0.6"/>
<polygon points="152.15,406.49 157.70,409.82 157.70,416.49 152.15,419.82 146.60,416.49 146.60,409.82" fill="#40bfff" stroke="#40bfff" stroke-width="0.6"/>
<polygon points="163.25,406.49 168.80,409.82 168.80,416.49 163.25,419.82 157.70,416.49 157.70,409.82" fill="#8080ff" stroke="#8080ff" stroke-width="0.6"/>
<polygon points="174.35,406.49 179.90,409.82 179.90,416.49 174.35,419.82 168.80,416.49 168.80,409.82" fill="#b24dff" stroke="#b24dff" stroke-width="0.6"/>
<polygon points="185.45,406.49 191.00,409.82 191.00,416.49 185.45,419.82 179.90,416.49 179.90,409.82" fill="#bf40ff" stroke="#bf40ff" stroke-width="0.6"/>
<polygon points="157.70,416.49 163.25,419.82 163.25,426.48 157.70,429.82 152.15,426.48 152.15,419.82" fill="#8080ff" stroke="#8080ff" stroke-width="0.6"/>
<polygon points="168.80,416.49 174.35,419.82 174.35,426.48 168.80,429.82 163.25,426.48 163.25,419.82" fill="#d926ff" stroke="#d926ff" stroke-width="0.6"/>
<polygon points="179.90,416.49 185.45,419.82 185.45,426.48 179.90,429.82 174.35,426.48 174.35,419.82" fill="#f20dff" stroke="#f20dff" stroke-width="0.6"/>
<polygon points="191.00,416.49 196.55,419.82 196.55,426.48 191.00,429.82 185.45,426.48 185.45,419.82" fill="#ff00ff" stroke="#ff00ff" stroke-width="0.6"/>
<text x="171.50" y="359.40" class="ttl" text-anchor="middle">222Rn</text>
<rect x="205.30" y="366.50" width="7.20" height="63.80" fill="url(#cg)" stroke="#3a3a3a" stroke-width="0.8"/>
<line x1="211.50" y1="372.90" x2="212.50" y2="372.90" stroke="#444" stroke-width="0.5"/>
<text x="214.90" y="375.10" class="tk">1</text>
<line x1="211.50" y1="391.80" x2="212.50" y2="391.80" stroke="#444" stroke-width="0.5"/>
<text x="214.90" y="394.00" class="tk">0.5</text>
<line x1="211.50" y1="410.40" x2="212.50" y2="410.40" stroke="#444" stroke-width="0.5"/>
<text x="214.90" y="412.60" class="tk">0</text>
<line x1="211.50" y1="427.70" x2="212.50" y2="427.70" stroke="#444" stroke-width="0.5"/>
<text x="214.90" y="429.90" class="tk">-0.5</text>
<polygon points="261.05,366.50 266.60,369.83 266.60,376.50 261.05,379.83 255.50,376.50 255.50,369.83" fill="#26d9ff" stroke="#26d9ff" stroke-width="0.6"/>
<polygon points="272.15,366.50 277.70,369.83 277.70,376.50 272.15,379.83 266.60,376.50 266.60,369.83" fill="#14ebff" stroke="#14ebff" stroke-width="0.6"/>
<polygon points="283.25,366.50 288.80,369.83 288.80,376.50 283.25,379.83 277.70,376.50 277.70,369.83" fill="#0df2ff" stroke="#0df2ff" stroke-width="0.6"/>
<polygon points="294.35,366.50 299.90,369.83 299.90,376.50 294.35,379.83 288.80,376.50 288.80,369.83" fill="#0df2ff" stroke="#0df2ff" stroke-width="0.6"/>
<polygon points="266.60,376.50 272.15,379.83 272.15,386.49 266.60,389.83 261.05,386.49 261.05,379.83" fill="#0df2ff" stroke="#0df2ff" stroke-width="0.6"/>
<polygon points="277.70,376.50 283.25,379.83 283.25,386.49 277.70,389.83 272.15,386.49 272.15,379.83" fill="#0df2ff" stroke="#0df2ff" stroke-width="0.6"/>
<polygon points="288.80,376.50 294.35,379.83 294.35,386.49 288.80,389.83 283.25,386.49 283.25,379.83" fill="#0df2ff" stroke="#0df2ff" stroke-width="0.6"/>
<polygon points="299.90,376.50 305.45,379.83 305.45,386.49 299.90,389.83 294.35,386.49 294.35,379.83" fill="#0df2ff" stroke="#0df2ff" stroke-width="0.6"/>
<polygon points="261.05,386.49 266.60,389.83 266.60,396.49 261.05,399.82 255.50,396.49 255.50,389.83" fill="#0df2ff" stroke="#0df2ff" stroke-width="0.6"/>
<polygon points="272.15,386.49 277.70,389.83 277.70,396.49 272.15,399.82 266.60,396.49 266.60,389.83" fill="#0df2ff" stroke="#0df2ff" stroke-width="0.6"/>
<polygon points="283.25,386.49 288.80,389.83 288.80,396.49 283.25,399.82 277.70,396.49 277.70,389.83" fill="#1ae6ff" stroke="#1ae6ff" stroke-width="0.6"/>
<polygon points="294.35,386.49 299.90,389.83 299.90,396.49 294.35,399.82 288.80,396.49 288.80,389.83" fill="#26d9ff" stroke="#26d9ff" stroke-width="0.6"/>
<polygon points="266.60,396.49 272.15,399.82 272.15,406.49 266.60,409.82 261.05,406.49 261.05,399.82" fill="#0df2ff" stroke="#0df2ff" stroke-width="0.6"/>
<polygon points="277.70,396.49 283.25,399.82 283.25,406.49 277.70,409.82 272.15,406.49 272.15,399.82" fill="#1ae6ff" stroke="#1ae6ff" stroke-width="0.6"/>
<polygon points="288.80,396.49 294.35,399.82 294.35,406.49 288.80,409.82 283.25,406.49 283.25,399.82" fill="#4cb2ff" stroke="#4cb2ff" stroke-width="0.6"/>
<polygon points="299.90,396.49 305.45,399.82 305.45,406.49 299.90,409.82 294.35,406.49 294.35,399.82" fill="#738cff" stroke="#738cff" stroke-width="0.6"/>
<polygon points="261.05,406.49 266.60,409.82 266.60,416.49 261.05,419.82 255.50,416.49 255.50,409.82" fill="#08f7ff" stroke="#08f7ff" stroke-width="0.6"/>
<polygon points="272.15,406.49 277.70,409.82 277.70,416.49 272.15,419.82 266.60,416.49 266.60,409.82" fill="#14ebff" stroke="#14ebff" stroke-width="0.6"/>
<polygon points="283.25,406.49 288.80,409.82 288.80,416.49 283.25,419.82 277.70,416.49 277.70,409.82" fill="#40bfff" stroke="#40bfff" stroke-width="0.6"/>
<polygon points="294.35,406.49 299.90,409.82 299.90,416.49 294.35,419.82 288.80,416.49 288.80,409.82" fill="#9966ff" stroke="#9966ff" stroke-width="0.6"/>
<polygon points="266.60,416.49 272.15,419.82 272.15,426.48 266.60,429.82 261.05,426.48 261.05,419.82" fill="#08f7ff" stroke="#08f7ff" stroke-width="0.6"/>
<polygon points="277.70,416.49 283.25,419.82 283.25,426.48 277.70,429.82 272.15,426.48 272.15,419.82" fill="#26d9ff" stroke="#26d9ff" stroke-width="0.6"/>
<polygon points="288.80,416.49 294.35,419.82 294.35,426.48 288.80,429.82 283.25,426.48 283.25,419.82" fill="#738cff" stroke="#738cff" stroke-width="0.6"/>
<polygon points="299.90,416.49 305.45,419.82 305.45,426.48 299.90,429.82 294.35,426.48 294.35,419.82" fill="#ff00ff" stroke="#ff00ff" stroke-width="0.6"/>
<text x="278.90" y="359.40" class="ttl" text-anchor="middle">220Rn</text>
<rect x="314.30" y="366.50" width="7.40" height="63.80" fill="url(#cg)" stroke="#3a3a3a" stroke-width="0.8"/>
<line x1="320.70" y1="367.90" x2="321.70" y2="367.90" stroke="#444" stroke-width="0.5"/>
<text x="324.10" y="370.10" class="tk">2</text>
<line x1="320.70" y1="393.40" x2="321.70" y2="393.40" stroke="#444" stroke-width="0.5"/>
<text x="324.10" y="395.60" class="tk">1</text>
<line x1="320.70" y1="419.70" x2="321.70" y2="419.70" stroke="#444" stroke-width="0.5"/>
<text x="324.10" y="421.90" class="tk">0</text>
<polygon points="539.25,39.80 546.40,44.05 546.40,52.56 539.25,56.81 532.10,52.56 532.10,44.05" fill="#7a85ff" stroke="#7a85ff" stroke-width="0.6"/>
<polygon points="553.55,39.80 560.70,44.05 560.70,52.56 553.55,56.81 546.40,52.56 546.40,44.05" fill="#7a85ff" stroke="#7a85ff" stroke-width="0.6"/>
<polygon points="567.85,39.80 575.00,44.05 575.00,52.56 567.85,56.81 560.70,52.56 560.70,44.05" fill="#7a85ff" stroke="#7a85ff" stroke-width="0.6"/>
<polygon points="582.15,39.80 589.30,44.05 589.30,52.56 582.15,56.81 575.00,52.56 575.00,44.05" fill="#ff00ff" stroke="#ff00ff" stroke-width="0.6"/>
<polygon points="596.45,39.80 603.60,44.05 603.60,52.56 596.45,56.81 589.30,52.56 589.30,44.05" fill="#8c73ff" stroke="#8c73ff" stroke-width="0.6"/>
<polygon points="610.75,39.80 617.90,44.05 617.90,52.56 610.75,56.81 603.60,52.56 603.60,44.05" fill="#738cff" stroke="#738cff" stroke-width="0.6"/>
<polygon points="625.05,39.80 632.20,44.05 632.20,52.56 625.05,56.81 617.90,52.56 617.90,44.05" fill="#6b94ff" stroke="#6b94ff" stroke-width="0.6"/>
<polygon points="546.40,52.56 553.55,56.81 553.55,65.31 546.40,69.56 539.25,65.31 539.25,56.81" fill="#8c73ff" stroke="#8c73ff" stroke-width="0.6"/>
<polygon points="560.70,52.56 567.85,56.81 567.85,65.31 560.70,69.56 553.55,65.31 553.55,56.81" fill="#3dc2ff" stroke="#3dc2ff" stroke-width="0.6"/>
<polygon points="575.00,52.56 582.15,56.81 582.15,65.31 575.00,69.56 567.85,65.31 567.85,56.81" fill="#738cff" stroke="#738cff" stroke-width="0.6"/>
<polygon points="589.30,52.56 596.45,56.81 596.45,65.31 589.30,69.56 582.15,65.31 582.15,56.81" fill="#b847ff" stroke="#b847ff" stroke-width="0.6"/>
<polygon points="603.60,52.56 610.75,56.81 610.75,65.31 603.60,69.56 596.45,65.31 596.45,56.81" fill="#3dc2ff" stroke="#3dc2ff" stroke-width="0.6"/>
<polygon points="617.90,52.56 625.05,56.81 625.05,65.31 617.90,69.56 610.75,65.31 610.75,56.81" fill="#8c73ff" stroke="#8c73ff" stroke-width="0.6"/>
<polygon points="632.20,52.56 639.35,56.81 639.35,65.31 632.20,69.56 625.05,65.31 625.05,56.81" fill="#6699ff" stroke="#6699ff" stroke-width="0.6"/>
<polygon points="553.55,65.31 560.70,69.56 560.70,78.07 553.55,82.32 546.40,78.07 546.40,69.56" fill="#738cff" stroke="#738cff" stroke-width="0.6"/>
<polygon points="567.85,65.31 575.00,69.56 575.00,78.07 567.85,82.32 560.70,78.07 560.70,69.56" fill="#738cff" stroke="#738cff" stroke-width="0.6"/>
<polygon points="582.15,65.31 589.30,69.56 589.30,78.07 582.15,82.32 575.00,78.07 575.00,69.56" fill="#738cff" stroke="#738cff" stroke-width="0.6"/>
<polygon points="596.45,65.31 603.60,69.56 603.60,78.07 596.45,82.32 589.30,78.07 589.30,69.56" fill="#bf40ff" stroke="#bf40ff" stroke-width="0.6"/>
<polygon points="610.75,65.31 617.90,69.56 617.90,78.07 610.75,82.32 603.60,78.07 603.60,69.56" fill="#8c73ff" stroke="#8c73ff" stroke-width="0.6"/>
<polygon points="625.05,65.31 632.20,69.56 632.20,78.07 625.05,82.32 617.90,78.07 617.90,69.56" fill="#26d9ff" stroke="#26d9ff" stroke-width="0.6"/>
<polygon points="639.35,65.31 646.50,69.56 646.50,78.07 639.35,82.32 632.20,78.07 632.20,69.56" fill="#619eff" stroke="#619eff" stroke-width="0.6"/>
<polygon points="546.40,78.07 553.55,82.32 553.55,90.82 546.40,95.07 539.25,90.82 539.25,82.32" fill="#738cff" stroke="#738cff" stroke-width="0.6"/>
<polygon points="560.70,78.07 567.85,82.32 567.85,90.82 560.70,95.07 553.55,90.82 553.55,82.32" fill="#9966ff" stroke="#9966ff" stroke-width="0.6"/>
<polygon points="575.00,78.07 582.15,82.32 582.15,90.82 575.00,95.07 567.85,90.82 567.85,82.32" fill="#738cff" stroke="#738cff" stroke-width="0.6"/>
<polygon points="589.30,78.07 596.45,82.32 596.45,90.82 589.30,95.07 582.15,90.82 582.15,82.32" fill="#8080ff" stroke="#8080ff" stroke-width="0.6"/>
<polygon points="603.60,78.07 610.75,82.32 610.75,90.82 603.60,95.07 596.45,90.82 596.45,82.32" fill="#e619ff" stroke="#e619ff" stroke-width="0.6"/>
<polygon points="617.90,78.07 625.05,82.32 625.05,90.82 617.90,95.07 610.75,90.82 610.75,82.32" fill="#8c73ff" stroke="#8c73ff" stroke-width="0.6"/>
<polygon points="632.20,78.07 639.35,82.32 639.35,90.82 632.20,95.07 625.05,90.82 625.05,82.32" fill="#d926ff" stroke="#d926ff" stroke-width="0.6"/>
<polygon points="539.25,90.82 546.40,95.07 546.40,103.58 539.25,107.83 532.10,103.58 532.10,95.07" fill="#738cff" stroke="#738cff" stroke-width="0.6"/>
<polygon points="553.55,90.82 560.70,95.07 560.70,103.58 553.55,107.83 546.40,103.58 546.40,95.07" fill="#0df2ff" stroke="#0df2ff" stroke-width="0.6"/>
<polygon points="567.85,90.82 575.00,95.07 575.00,103.58 567.85,107.83 560.70,103.58 560.70,95.07" fill="#5ca3ff" stroke="#5ca3ff" stroke-width="0.6"/>
<polygon points="582.15,90.82 589.30,95.07 589.30,103.58 582.15,107.83 575.00,103.58 575.00,95.07" fill="#4cb2ff" stroke="#4cb2ff" stroke-width="0.6"/>
<polygon points="596.45,90.82 603.60,95.07 603.60,103.58 596.45,107.83 589.30,103.58 589.30,95.07" fill="#6699ff" stroke="#6699ff" stroke-width="0.6"/>
<polygon points="610.75,90.82 617.90,95.07 617.90,103.58 610.75,107.83 603.60,103.58 603.60,95.07" fill="#738cff" stroke="#738cff" stroke-width="0.6"/>
<polygon points="625.05,90.82 632.20,95.07 632.20,103.58 625.05,107.83 617.90,103.58 617.90,95.07" fill="#8c73ff" stroke="#8c73ff" stroke-width="0.6"/>
<polygon points="546.40,103.58 553.55,107.83 553.55,116.33 546.40,120.59 539.25,116.33 539.25,107.83" fill="#8080ff" stroke="#8080ff" stroke-width="0.6"/>
<polygon points="560.70,103.58 567.85,107.83 567.85,116.33 560.70,120.59 553.55,116.33 553.55,107.83" fill="#619eff" stroke="#619eff" stroke-width="0.6"/>
<polygon points="575.00,103.58 582.15,107.83 582.15,116.33 575.00,120.59 567.85,116.33 567.85,107.83" fill="#6699ff" stroke="#6699ff" stroke-width="0.6"/>
<polygon points="589.30,103.58 596.45,107.83 596.45,116.33 589.30,120.59 582.15,116.33 582.15,107.83" fill="#5ea1ff" stroke="#5ea1ff" stroke-width="0.6"/>
<polygon points="603.60,103.58 610.75,107.83 610.75,116.33 603.60,120.59 596.45,116.33 596.45,107.83" fill="#6b94ff" stroke="#6b94ff" stroke-width="0.6"/>
<polygon points="617.90,103.58 625.05,107.83 625.05,116.33 617.90,120.59 610.75,116.33 610.75,107.83" fill="#b24dff" stroke="#b24dff" stroke-width="0.6"/>
<polygon points="632.20,103.58 639.35,107.83 639.35,116.33 632.20,120.59 625.05,116.33 625.05,107.83" fill="#9966ff" stroke="#9966ff" stroke-width="0.6"/>
<polygon points="553.55,116.33 560.70,120.59 560.70,129.09 553.55,133.34 546.40,129.09 546.40,120.59" fill="#4cb2ff" stroke="#4cb2ff" stroke-width="0.6"/>
<polygon points="567.85,116.33 575.00,120.59 575.00,129.09 567.85,133.34 560.70,129.09 560.70,120.59" fill="#0df2ff" stroke="#0df2ff" stroke-width="0.6"/>
<polygon points="582.15,116.33 589.30,120.59 589.30,129.09 582.15,133.34 575.00,129.09 575.00,120.59" fill="#4cb2ff" stroke="#4cb2ff" stroke-width="0.6"/>
<polygon points="596.45,116.33 603.60,120.59 603.60,129.09 596.45,133.34 589.30,129.09 589.30,120.59" fill="#40bfff" stroke="#40bfff" stroke-width="0.6"/>
<polygon points="610.75,116.33 617.90,120.59 617.90,129.09 610.75,133.34 603.60,129.09 603.60,120.59" fill="#52adff" stroke="#52adff" stroke-width="0.6"/>
<polygon points="625.05,116.33 632.20,120.59 632.20,129.09 625.05,133.34 617.90,129.09 617.90,120.59" fill="#26d9ff" stroke="#26d9ff" stroke-width="0.6"/>
<polygon points="639.35,116.33 646.50,120.59 646.50,129.09 639.35,133.34 632.20,129.09 632.20,120.59" fill="#738cff" stroke="#738cff" stroke-width="0.6"/>
<polygon points="546.40,129.09 553.55,133.34 553.55,141.85 546.40,146.10 539.25,141.85 539.25,133.34" fill="#4cb2ff" stroke="#4cb2ff" stroke-width="0.6"/>
<polygon points="560.70,129.09 567.85,133.34 567.85,141.85 560.70,146.10 553.55,141.85 553.55,133.34" fill="#4cb2ff" stroke="#4cb2ff" stroke-width="0.6"/>
<polygon points="575.00,129.09 582.15,133.34 582.15,141.85 575.00,146.10 567.85,141.85 567.85,133.34" fill="#4cb2ff" stroke="#4cb2ff" stroke-width="0.6"/>
<polygon points="589.30,129.09 596.45,133.34 596.45,141.85 589.30,146.10 582.15,141.85 582.15,133.34" fill="#54abff" stroke="#54abff" stroke-width="0.6"/>
<polygon points="603.60,129.09 610.75,133.34 610.75,141.85 603.60,146.10 596.45,141.85 596.45,133.34" fill="#59a6ff" stroke="#59a6ff" stroke-width="0.6"/>
<polygon points="617.90,129.09 625.05,133.34 625.05,141.85 617.90,146.10 610.75,141.85 610.75,133.34" fill="#8c73ff" stroke="#8c73ff" stroke-width="0.6"/>
<polygon points="632.20,129.09 639.35,133.34 639.35,141.85 632.20,146.10 625.05,141.85 625.05,133.34" fill="#8080ff" stroke="#8080ff" stroke-width="0.6"/>
<polygon points="539.25,141.85 546.40,146.10 546.40,154.60 539.25,158.85 532.10,154.60 532.10,146.10" fill="#1ae6ff" stroke="#1ae6ff" stroke-width="0.6"/>
<polygon points="553.55,141.85 560.70,146.10 560.70,154.60 553.55,158.85 546.40,154.60 546.40,146.10" fill="#05faff" stroke="#05faff" stroke-width="0.6"/>
<polygon points="567.85,141.85 575.00,146.10 575.00,154.60 567.85,158.85 560.70,154.60 560.70,146.10" fill="#21deff" stroke="#21deff" stroke-width="0.6"/>
<polygon points="582.15,141.85 589.30,146.10 589.30,154.60 582.15,158.85 575.00,154.60 575.00,146.10" fill="#2bd4ff" stroke="#2bd4ff" stroke-width="0.6"/>
<polygon points="596.45,141.85 603.60,146.10 603.60,154.60 596.45,158.85 589.30,154.60 589.30,146.10" fill="#42bdff" stroke="#42bdff" stroke-width="0.6"/>
<polygon points="610.75,141.85 617.90,146.10 617.90,154.60 610.75,158.85 603.60,154.60 603.60,146.10" fill="#4ab5ff" stroke="#4ab5ff" stroke-width="0.6"/>
<polygon points="625.05,141.85 632.20,146.10 632.20,154.60 625.05,158.85 617.90,154.60 617.90,146.10" fill="#7887ff" stroke="#7887ff" stroke-width="0.6"/>
<polygon points="546.40,154.60 553.55,158.85 553.55,167.36 546.40,171.61 539.25,167.36 539.25,158.85" fill="#1ce3ff" stroke="#1ce3ff" stroke-width="0.6"/>
<polygon points="560.70,154.60 567.85,158.85 567.85,167.36 560.70,171.61 553.55,167.36 553.55,158.85" fill="#14ebff" stroke="#14ebff" stroke-width="0.6"/>
<polygon points="575.00,154.60 582.15,158.85 582.15,167.36 575.00,171.61 567.85,167.36 567.85,158.85" fill="#21deff" stroke="#21deff" stroke-width="0.6"/>
<polygon points="589.30,154.60 596.45,158.85 596.45,167.36 589.30,171.61 582.15,167.36 582.15,158.85" fill="#1ce3ff" stroke="#1ce3ff" stroke-width="0.6"/>
<polygon points="603.60,154.60 610.75,158.85 610.75,167.36 603.60,171.61 596.45,167.36 596.45,158.85" fill="#40bfff" stroke="#40bfff" stroke-width="0.6"/>
<polygon points="617.90,154.60 625.05,158.85 625.05,167.36 617.90,171.61 610.75,167.36 610.75,158.85" fill="#1ce3ff" stroke="#1ce3ff" stroke-width="0.6"/>
<polygon points="632.20,154.60 639.35,158.85 639.35,167.36 632.20,171.61 625.05,167.36 625.05,158.85" fill="#738cff" stroke="#738cff" stroke-width="0.6"/>
<polygon points="553.55,167.36 560.70,171.61 560.70,180.11 553.55,184.36 546.40,180.11 546.40,171.61" fill="#17e8ff" stroke="#17e8ff" stroke-width="0.6"/>
<polygon points="567.85,167.36 575.00,171.61 575.00,180.11 567.85,184.36 560.70,180.11 560.70,171.61" fill="#1ae6ff" stroke="#1ae6ff" stroke-width="0.6"/>
<polygon points="582.15,167.36 589.30,171.61 589.30,180.11 582.15,184.36 575.00,180.11 575.00,171.61" fill="#1fe0ff" stroke="#1fe0ff" stroke-width="0.6"/>
<polygon points="596.45,167.36 603.60,171.61 603.60,180.11 596.45,184.36 589.30,180.11 589.30,171.61" fill="#26d9ff" stroke="#26d9ff" stroke-width="0.6"/>
<polygon points="610.75,167.36 617.90,171.61 617.90,180.11 610.75,184.36 603.60,180.11 603.60,171.61" fill="#40bfff" stroke="#40bfff" stroke-width="0.6"/>
<polygon points="625.05,167.36 632.20,171.61 632.20,180.11 625.05,184.36 617.90,180.11 617.90,171.61" fill="#738cff" stroke="#738cff" stroke-width="0.6"/>
<polygon points="639.35,167.36 646.50,171.61 646.50,180.11 639.35,184.36 632.20,180.11 632.20,171.61" fill="#738cff" stroke="#738cff" stroke-width="0.6"/>
<text x="588" y="28.8" class="ttl2" text-anchor="middle" textLength="41.7" lengthAdjust="spacingAndGlyphs">U-matrix</text>
<text x="519.80" y="52.90" class="bl" textLength="34.60" lengthAdjust="spacingAndGlyphs">KW9-1</text>
<text x="578.90" y="52.90" class="bl" textLength="33.50" lengthAdjust="spacingAndGlyphs">KW4-1</text>
<text x="622.30" y="52.90" class="bl" textLength="34.60" lengthAdjust="spacingAndGlyphs">KW4-2</text>
<text x="545.70" y="77.00" class="bl" textLength="18.60" lengthAdjust="spacingAndGlyphs">MC</text>
<text x="519.80" y="105.10" class="bl" textLength="34.60" lengthAdjust="spacingAndGlyphs">KW8-1</text>
<text x="559.90" y="105.10" class="bl" textLength="33.50" lengthAdjust="spacingAndGlyphs">KW7-1</text>
<text x="613.50" y="105.10" class="bl" textLength="31.10" lengthAdjust="spacingAndGlyphs">KW15</text>
<text x="524.20" y="130.00" class="bl" textLength="40.70" lengthAdjust="spacingAndGlyphs">KW13-1</text>
<text x="571.90" y="130.00" class="bl" textLength="31.10" lengthAdjust="spacingAndGlyphs">KW14</text>
<text x="521.60" y="156.00" class="bl" textLength="25.10" lengthAdjust="spacingAndGlyphs">KW3</text>
<text x="582.40" y="156.00" class="bl" textLength="35.10" lengthAdjust="spacingAndGlyphs">KW7-2</text>
<text x="622.30" y="156.00" class="bl" textLength="33.90" lengthAdjust="spacingAndGlyphs">KW5-1</text>
<text x="532.50" y="182.90" class="bl" textLength="35.10" lengthAdjust="spacingAndGlyphs">KW5-2</text>
<text x="571.90" y="182.90" class="bl" textLength="39.40" lengthAdjust="spacingAndGlyphs">KW11-1</text>
<text x="624.50" y="182.90" class="bl" textLength="35.00" lengthAdjust="spacingAndGlyphs">KW8-2</text>
<path d="M534.60,270.94 L549.90,279.97 L549.90,298.03 L534.60,307.06 L519.30,298.03 L519.30,279.97 Z M565.20,270.94 L580.50,279.97 L580.50,298.03 L565.20,307.06 L549.90,298.03 L549.90,279.97 Z M595.80,270.94 L611.10,279.97 L611.10,298.03 L595.80,307.06 L580.50,298.03 L580.50,279.97 Z M626.40,270.94 L641.70,279.97 L641.70,298.03 L626.40,307.06 L611.10,298.03 L611.10,279.97 Z M549.90,298.03 L565.20,307.06 L565.20,325.11 L549.90,334.14 L534.60,325.11 L534.60,307.06 Z M580.50,298.03 L595.80,307.06 L595.80,325.11 L580.50,334.14 L565.20,325.11 L565.20,307.06 Z M611.10,298.03 L626.40,307.06 L626.40,325.11 L611.10,334.14 L595.80,325.11 L595.80,307.06 Z M641.70,298.03 L657.00,307.06 L657.00,325.11 L641.70,334.14 L626.40,325.11 L626.40,307.06 Z M534.60,325.11 L549.90,334.14 L549.90,352.19 L534.60,361.22 L519.30,352.19 L519.30,334.14 Z M565.20,325.11 L580.50,334.14 L580.50,352.19 L565.20,361.22 L549.90,352.19 L549.90,334.14 Z M595.80,325.11 L611.10,334.14 L611.10,352.19 L595.80,361.22 L580.50,352.19 L580.50,334.14 Z M626.40,325.11 L641.70,334.14 L641.70,352.19 L626.40,361.22 L611.10,352.19 L611.10,334.14 Z M549.90,352.19 L565.20,361.22 L565.20,379.28 L549.90,388.31 L534.60,379.28 L534.60,361.22 Z M580.50,352.19 L595.80,361.22 L595.80,379.28 L580.50,388.31 L565.20,379.28 L565.20,361.22 Z M611.10,352.19 L626.40,361.22 L626.40,379.28 L611.10,388.31 L595.80,379.28 L595.80,361.22 Z M641.70,352.19 L657.00,361.22 L657.00,379.28 L641.70,388.31 L626.40,379.28 L626.40,361.22 Z M534.60,379.28 L549.90,388.31 L549.90,406.36 L534.60,415.39 L519.30,406.36 L519.30,388.31 Z M565.20,379.28 L580.50,388.31 L580.50,406.36 L565.20,415.39 L549.90,406.36 L549.90,388.31 Z M595.80,379.28 L611.10,388.31 L611.10,406.36 L595.80,415.39 L580.50,406.36 L580.50,388.31 Z M626.40,379.28 L641.70,388.31 L641.70,406.36 L626.40,415.39 L611.10,406.36 L611.10,388.31 Z M549.90,406.36 L565.20,415.39 L565.20,433.44 L549.90,442.47 L534.60,433.44 L534.60,415.39 Z M580.50,406.36 L595.80,415.39 L595.80,433.44 L580.50,442.47 L565.20,433.44 L565.20,415.39 Z M611.10,406.36 L626.40,415.39 L626.40,433.44 L611.10,442.47 L595.80,433.44 L595.80,415.39 Z M641.70,406.36 L657.00,415.39 L657.00,433.44 L641.70,442.47 L626.40,433.44 L626.40,415.39 Z" fill="none" stroke="#7a7a7a" stroke-width="0.95"/>
<path d="M596.20,415.39 L591.60,450.60" fill="none" stroke="#1ba3e1" stroke-width="2.10" stroke-linejoin="miter" stroke-linecap="butt"/>
<path d="M611.10,352.19 L611.10,334.14 L626.40,325.11 L641.70,334.14 L646.30,337.40" fill="none" stroke="#6a2d9c" stroke-width="2.10" stroke-linejoin="miter" stroke-linecap="butt"/>
<path d="M611.10,352.19 L626.40,361.22 L641.70,352.19 L653.50,341.10" fill="none" stroke="#6a2d9c" stroke-width="2.10" stroke-linejoin="miter" stroke-linecap="butt"/>
<path d="M549.90,263.00 L549.90,298.03 L565.20,307.06 L565.20,325.11 L549.90,334.14 L549.90,352.19" fill="none" stroke="#ec1010" stroke-width="2.10" stroke-linejoin="miter" stroke-linecap="butt"/>
<path d="M580.50,269.80 L580.50,298.03 L595.80,307.06 L611.10,298.03 L626.40,307.06 L641.70,298.03 L653.30,290.30" fill="none" stroke="#f7bd13" stroke-width="2.10" stroke-linejoin="miter" stroke-linecap="butt"/>
<path d="M513.70,372.30 L534.60,361.22 L549.90,352.19 L565.20,361.22" fill="none" stroke="#1ba3e1" stroke-width="2.10" stroke-linejoin="miter" stroke-linecap="butt"/>
<path d="M565.20,361.22 L580.50,352.19 L595.80,361.22 L611.10,352.19 L626.40,361.22 L641.70,352.19 L657.00,361.22 L666.50,367.40" fill="none" stroke="#12a04e" stroke-width="2.10" stroke-linejoin="miter" stroke-linecap="butt"/>
<path d="M565.20,361.22 L565.20,379.28 L580.50,388.31 L580.50,406.36 L595.80,415.39 L595.80,441.20" fill="none" stroke="#12a04e" stroke-width="2.10" stroke-linejoin="miter" stroke-linecap="butt"/>
<text x="534.60" y="292.30" class="hl" text-anchor="middle" textLength="22.30" lengthAdjust="spacingAndGlyphs">KW9-1</text>
<text x="595.80" y="292.30" class="hl" text-anchor="middle" textLength="22.30" lengthAdjust="spacingAndGlyphs">KW4-1</text>
<text x="626.40" y="292.30" class="hl" text-anchor="middle" textLength="21.90" lengthAdjust="spacingAndGlyphs">KW4-2</text>
<text x="549.90" y="319.38" class="hl" text-anchor="middle" textLength="12.50" lengthAdjust="spacingAndGlyphs">MC</text>
<text x="534.60" y="346.47" class="hl" text-anchor="middle" textLength="22.40" lengthAdjust="spacingAndGlyphs">KW8-1</text>
<text x="565.20" y="346.47" class="hl" text-anchor="middle" textLength="22.30" lengthAdjust="spacingAndGlyphs">KW7-1</text>
<text x="626.40" y="346.47" class="hl" text-anchor="middle" textLength="21.40" lengthAdjust="spacingAndGlyphs">KW15</text>
<text x="549.90" y="373.55" class="hl" text-anchor="middle" textLength="27.40" lengthAdjust="spacingAndGlyphs">KW13-1</text>
<text x="580.50" y="373.55" class="hl" text-anchor="middle" textLength="20.80" lengthAdjust="spacingAndGlyphs">KW14</text>
<text x="534.60" y="400.63" class="hl" text-anchor="middle" textLength="17.00" lengthAdjust="spacingAndGlyphs">KW3</text>
<text x="595.80" y="400.63" class="hl" text-anchor="middle" textLength="22.50" lengthAdjust="spacingAndGlyphs">KW7-2</text>
<text x="626.40" y="400.63" class="hl" text-anchor="middle" textLength="21.50" lengthAdjust="spacingAndGlyphs">KW5-1</text>
<text x="549.90" y="427.72" class="hl" text-anchor="middle" textLength="23.00" lengthAdjust="spacingAndGlyphs">KW5-2</text>
<text x="580.50" y="427.72" class="hl" text-anchor="middle" textLength="26.90" lengthAdjust="spacingAndGlyphs">KW11-1</text>
<text x="641.70" y="427.72" class="hl" text-anchor="middle" textLength="22.60" lengthAdjust="spacingAndGlyphs">KW8-2</text>
<text x="513.7" y="257.4" class="grp" fill="#ec1010" stroke="#ec1010" textLength="46.3" lengthAdjust="spacingAndGlyphs">Group A</text>
<text x="614.2" y="264.3" class="grp" fill="#f7bd13" stroke="#f7bd13" textLength="46.4" lengthAdjust="spacingAndGlyphs">Group B</text>
<text x="510.5" y="455.7" class="grp" fill="#1ba3e1" stroke="#1ba3e1" textLength="46.6" lengthAdjust="spacingAndGlyphs">Group C</text>
<text x="614.2" y="452.7" class="grp" fill="#12a04e" stroke="#12a04e" textLength="47.1" lengthAdjust="spacingAndGlyphs">Group D</text>
<text x="576.5" y="266.8" class="lbls" textLength="22.3" lengthAdjust="spacingAndGlyphs">Labels</text>
</svg>
</body></html>
